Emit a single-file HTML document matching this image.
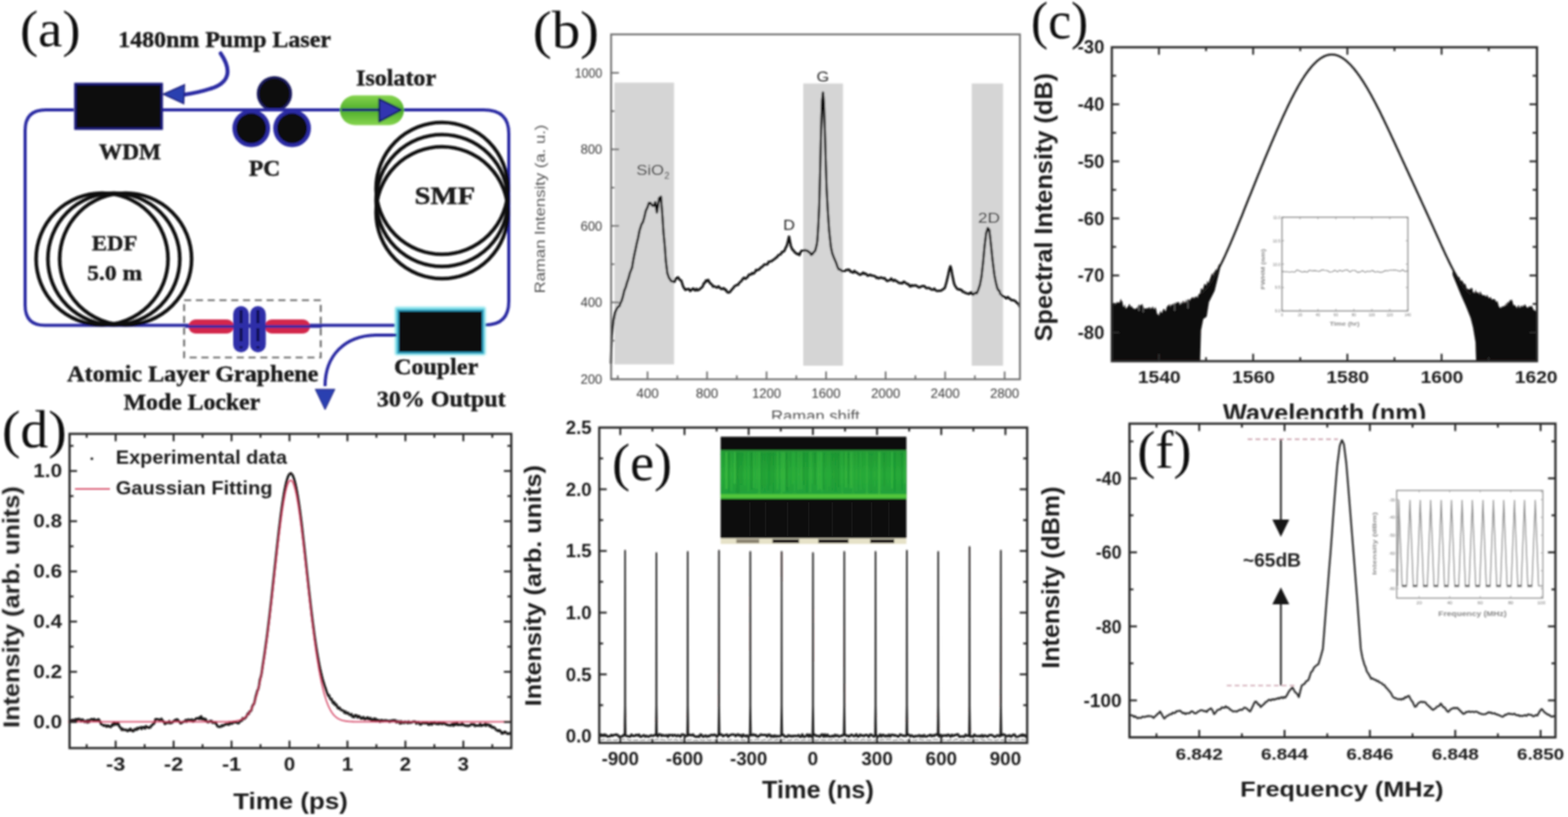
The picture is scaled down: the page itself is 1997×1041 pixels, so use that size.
<!DOCTYPE html>
<html><head><meta charset="utf-8"><title>Graphene mode-locked fiber laser</title>
<style>html,body{margin:0;padding:0;background:#fff;overflow:hidden}svg{display:block}</style>
</head><body>
<svg width="1997" height="1041" viewBox="0 0 1997 1041">
<defs><filter id="soft" x="0" y="0" width="100%" height="100%" filterUnits="userSpaceOnUse"><feGaussianBlur stdDeviation="0.8"/></filter></defs><rect width="100%" height="100%" fill="#fff"/><g filter="url(#soft)">
<defs><clipPath id="cliptop"><rect x="0" y="0" width="1997" height="533.7"/></clipPath></defs>
<g id="panel-a">
<path d="M 94 140 L 58 140 Q 32 140 32 166 L 32 389 Q 32 414.5 57 414.5 L 503 414.5" fill="none" stroke="#2b2ba3" stroke-width="4"/>
<path d="M 207 140 L 616 140 Q 648 140 648 170 L 648 384 Q 648 414 618 414" fill="none" stroke="#2b2ba3" stroke-width="4"/>
<circle cx="130" cy="330" r="84" fill="none" stroke="#0e0e0e" stroke-width="4.6"/>
<circle cx="145" cy="330" r="84" fill="none" stroke="#0e0e0e" stroke-width="4.6"/>
<circle cx="160" cy="330" r="84" fill="none" stroke="#0e0e0e" stroke-width="4.6"/>
<circle cx="563" cy="240" r="84" fill="none" stroke="#0e0e0e" stroke-width="4.6"/>
<circle cx="563" cy="255.5" r="84" fill="none" stroke="#0e0e0e" stroke-width="4.6"/>
<circle cx="563" cy="271" r="84" fill="none" stroke="#0e0e0e" stroke-width="4.6"/>
<rect x="96.0" y="107.0" width="110.0" height="57.0" rx="0" fill="#0b0b0b" stroke="#1d1d7a" stroke-width="3"/>
<path d="M 281 68 C 296 90 292 106 268 113 C 256 117 246 119 232 121" fill="none" stroke="#2b2ba3" stroke-width="5" stroke-linecap="round"/>
<polygon points="208,120 235,108 234,132" fill="#2c3fb0" stroke="#1d1d7a" stroke-width="1.5"/>
<circle cx="349.5" cy="119.5" r="21" fill="#0b0b0b" stroke="#1c1c5e" stroke-width="3"/>
<circle cx="320" cy="163.5" r="21.5" fill="#0b0b0b" stroke="#2b2ba3" stroke-width="5"/>
<circle cx="372" cy="163.5" r="21.5" fill="#0b0b0b" stroke="#2b2ba3" stroke-width="5"/>
<line x1="300.0" y1="140.0" x2="400.0" y2="140.0" stroke="#2b2ba3" stroke-width="4"/>
<defs><linearGradient id="isog" x1="0" y1="0" x2="0" y2="1"><stop offset="0" stop-color="#86d44e"/><stop offset="0.5" stop-color="#4fae2c"/><stop offset="1" stop-color="#86d44e"/></linearGradient><filter id="glow" x="-20%" y="-20%" width="140%" height="140%"><feGaussianBlur stdDeviation="1.2"/></filter></defs>
<rect x="433.0" y="121.5" width="81.5" height="38.0" rx="19" fill="url(#isog)" stroke="none" stroke-width="0"/>
<line x1="435.0" y1="140.0" x2="500.0" y2="140.0" stroke="#1a2a70" stroke-width="4"/>
<polygon points="511,140 483,126 483,155" fill="#3035b0" stroke="#13205a" stroke-width="2.5" stroke-linejoin="round"/>
<rect x="234.5" y="382.5" width="174" height="73" fill="none" stroke="#5c5c5c" stroke-width="2.2" stroke-dasharray="9,6"/>
<rect x="240.0" y="407.0" width="58.0" height="18.0" rx="9" fill="#d3284c" stroke="none" stroke-width="0"/>
<rect x="337.0" y="407.0" width="58.0" height="18.0" rx="9" fill="#d3284c" stroke="none" stroke-width="0"/>
<line x1="236.0" y1="416.0" x2="410.0" y2="416.0" stroke="#2b2ba3" stroke-width="3.5"/>
<rect x="297.0" y="390.0" width="20.0" height="59.0" rx="10" fill="#2d2da8" stroke="none" stroke-width="0"/>
<line x1="307.0" y1="395.0" x2="307.0" y2="444.0" stroke="#101048" stroke-width="3.5" stroke-dasharray="17,6"/>
<rect x="318.5" y="390.0" width="20.0" height="59.0" rx="10" fill="#2d2da8" stroke="none" stroke-width="0"/>
<line x1="328.5" y1="395.0" x2="328.5" y2="444.0" stroke="#101048" stroke-width="3.5" stroke-dasharray="17,6"/>
<rect x="503.0" y="391.0" width="115.5" height="61.5" rx="2" fill="#7fe0ea" stroke="none" stroke-width="0" filter="url(#glow)"/>
<rect x="507.0" y="395.5" width="108.0" height="54.0" rx="0" fill="#0c0a0a" stroke="#2a9ec0" stroke-width="2.5"/>
<path d="M 505 427 L 478 427 C 440 428 414 452 414 492" fill="none" stroke="#2b2ba3" stroke-width="4"/>
<polygon points="401.5,496 426.5,496 414,522" fill="#2c3fb0" stroke="#1d1d7a" stroke-width="1"/>
<text x="25.5" y="58.5" font-family="'Liberation Serif', 'Times New Roman', serif" font-size="66" font-weight="normal" fill="#111" textLength="77.0" lengthAdjust="spacingAndGlyphs">(a)</text>
<text x="150.5" y="59.6" font-family="'Liberation Serif', 'Times New Roman', serif" font-size="30" font-weight="bold" fill="#1a1a1a" textLength="271.0" lengthAdjust="spacingAndGlyphs" stroke="#1a1a1a" stroke-width="0.5">1480nm Pump Laser</text>
<text x="126.0" y="202.5" font-family="'Liberation Serif', 'Times New Roman', serif" font-size="29" font-weight="bold" fill="#1a1a1a" textLength="79.0" lengthAdjust="spacingAndGlyphs" stroke="#1a1a1a" stroke-width="0.5">WDM</text>
<text x="317.0" y="223.8" font-family="'Liberation Serif', 'Times New Roman', serif" font-size="29" font-weight="bold" fill="#1a1a1a" textLength="40.0" lengthAdjust="spacingAndGlyphs" stroke="#1a1a1a" stroke-width="0.5">PC</text>
<text x="453.5" y="108.6" font-family="'Liberation Serif', 'Times New Roman', serif" font-size="30" font-weight="bold" fill="#1a1a1a" textLength="102.0" lengthAdjust="spacingAndGlyphs" stroke="#1a1a1a" stroke-width="0.5">Isolator</text>
<text x="528.0" y="259.6" font-family="'Liberation Serif', 'Times New Roman', serif" font-size="31" font-weight="bold" fill="#1a1a1a" textLength="77.0" lengthAdjust="spacingAndGlyphs" stroke="#1a1a1a" stroke-width="0.5">SMF</text>
<text x="117.0" y="319.0" font-family="'Liberation Serif', 'Times New Roman', serif" font-size="28" font-weight="bold" fill="#1a1a1a" textLength="58.0" lengthAdjust="spacingAndGlyphs" stroke="#1a1a1a" stroke-width="0.5">EDF</text>
<text x="111.0" y="356.7" font-family="'Liberation Serif', 'Times New Roman', serif" font-size="28" font-weight="bold" fill="#1a1a1a" textLength="70.0" lengthAdjust="spacingAndGlyphs" stroke="#1a1a1a" stroke-width="0.5">5.0 m</text>
<text x="85.5" y="486.4" font-family="'Liberation Serif', 'Times New Roman', serif" font-size="30" font-weight="bold" fill="#1a1a1a" textLength="320.0" lengthAdjust="spacingAndGlyphs" stroke="#1a1a1a" stroke-width="0.5">Atomic Layer Graphene</text>
<text x="157.5" y="522.4" font-family="'Liberation Serif', 'Times New Roman', serif" font-size="30" font-weight="bold" fill="#1a1a1a" textLength="174.0" lengthAdjust="spacingAndGlyphs" stroke="#1a1a1a" stroke-width="0.5">Mode Locker</text>
<text x="502.0" y="476.8" font-family="'Liberation Serif', 'Times New Roman', serif" font-size="30" font-weight="bold" fill="#1a1a1a" textLength="107.0" lengthAdjust="spacingAndGlyphs" stroke="#1a1a1a" stroke-width="0.5">Coupler</text>
<text x="480.0" y="517.5" font-family="'Liberation Serif', 'Times New Roman', serif" font-size="30" font-weight="bold" fill="#1a1a1a" textLength="164.0" lengthAdjust="spacingAndGlyphs" stroke="#1a1a1a" stroke-width="0.5">30% Output</text>
</g>
<g id="panel-b">
<rect x="782.5" y="105.3" width="76.0" height="359.0" rx="0" fill="#d5d5d5" stroke="none" stroke-width="0"/>
<rect x="1023.0" y="106.4" width="50.6" height="359.6" rx="0" fill="#d5d5d5" stroke="none" stroke-width="0"/>
<rect x="1237.6" y="106.4" width="39.9" height="359.6" rx="0" fill="#d5d5d5" stroke="none" stroke-width="0"/>
<polyline points="778.0,462.4 778.5,445.1 779.3,427.7 781.3,408.6 783.5,398.3 785.0,394.4 786.5,391.7 789.0,389.8 790.3,386.0 791.6,383.6 793.5,377.2 795.1,370.3 796.9,366.0 798.6,359.9 800.5,354.5 802.3,347.6 803.6,344.5 805.0,340.9 806.6,331.1 808.3,322.6 809.6,316.9 811.0,310.0 812.7,303.1 814.4,294.1 815.7,290.0 817.0,285.9 818.7,283.2 820.4,277.6 822.5,268.5 824.5,264.5 826.5,258.5 828.5,258.6 830.5,261.7 832.5,262.3 834.6,257.5 836.6,270.7 838.0,262.9 839.4,252.5 841.8,250.6 843.8,277.0 845.0,296.1 846.7,313.8 848.0,332.3 849.9,347.9 852.0,354.0 853.4,355.9 854.7,358.0 856.1,358.6 857.4,358.6 858.8,359.4 861.0,354.4 862.3,354.2 863.6,353.3 865.0,355.6 866.3,356.8 867.7,357.6 870.0,364.9 871.5,367.4 872.9,369.5 874.5,368.4 876.0,368.5 877.5,368.3 879.0,370.8 880.3,369.7 881.7,368.5 883.0,367.5 884.3,369.5 885.7,370.0 887.0,368.0 888.3,370.0 889.7,369.3 891.0,368.9 892.3,367.3 893.7,366.5 895.0,364.9 896.4,361.0 897.7,360.5 899.1,357.3 900.5,358.2 902.0,356.6 903.6,359.7 905.2,361.7 906.6,362.3 908.0,365.2 909.6,364.8 911.2,365.5 913.1,366.5 915.0,364.9 916.5,366.3 918.0,367.8 919.4,368.4 920.7,367.4 922.0,367.3 923.4,369.4 924.7,369.3 926.0,372.1 927.7,372.8 929.4,372.3 930.7,370.7 932.0,369.0 933.8,367.1 935.5,364.7 937.0,363.8 938.5,363.1 940.0,363.1 941.3,360.7 942.7,359.2 944.0,358.5 945.8,355.6 947.6,353.9 949.3,355.3 951.0,354.1 952.3,352.8 953.7,350.2 955.0,349.8 956.6,349.7 958.1,347.8 959.7,348.7 961.4,347.0 963.0,343.9 964.3,344.6 965.7,343.6 967.0,343.4 968.6,341.1 970.2,340.4 971.8,338.9 973.4,337.0 975.0,336.9 976.3,337.1 977.7,336.4 979.0,333.4 980.6,333.3 982.3,333.0 983.9,331.8 985.5,330.8 987.0,329.6 988.3,328.4 989.7,327.6 991.0,325.5 992.7,324.4 994.3,324.1 996.0,321.0 997.5,320.7 999.0,319.6 1000.5,316.0 1002.0,313.3 1003.5,307.7 1004.9,301.4 1006.0,307.2 1007.3,313.8 1009.5,318.5 1010.8,319.1 1012.1,321.7 1013.5,322.2 1015.0,323.8 1016.6,323.4 1018.2,325.0 1019.6,321.3 1021.0,319.6 1022.6,319.4 1024.2,318.9 1025.6,318.9 1027.0,319.3 1028.7,319.7 1030.3,321.4 1031.7,321.9 1033.0,324.7 1034.7,323.9 1036.3,321.3 1038.2,319.5 1040.0,312.7 1041.0,306.2 1042.3,285.7 1043.4,261.1 1044.5,219.1 1045.4,180.3 1046.2,150.7 1047.0,127.9 1048.2,117.9 1049.4,132.2 1050.5,164.8 1051.5,200.8 1052.8,241.0 1054.3,268.8 1056.0,293.8 1058.3,315.1 1060.0,322.9 1062.4,329.2 1064.5,333.8 1066.4,339.3 1068.0,343.0 1070.4,343.5 1071.9,345.1 1073.5,345.5 1075.0,345.4 1076.4,344.8 1077.8,344.1 1079.1,344.0 1080.5,343.5 1082.0,344.1 1083.5,346.3 1085.0,346.5 1086.7,347.4 1088.3,345.2 1090.0,347.0 1091.7,347.5 1093.3,349.0 1095.0,350.0 1096.4,349.8 1097.8,348.8 1099.3,347.3 1100.7,348.9 1102.1,348.4 1103.6,349.6 1105.0,351.4 1106.7,350.7 1108.3,350.1 1110.0,351.1 1111.7,351.3 1113.3,351.6 1115.0,352.4 1116.5,354.2 1117.9,353.6 1119.3,354.7 1120.8,353.9 1122.2,353.5 1123.6,354.2 1125.0,354.8 1126.7,354.2 1128.3,356.7 1130.0,358.0 1131.7,357.4 1133.3,357.1 1135.0,354.8 1136.5,356.9 1138.0,358.0 1139.5,356.6 1141.0,357.8 1142.7,358.6 1144.3,360.2 1146.0,360.8 1147.7,360.6 1149.3,361.0 1151.0,358.8 1152.7,359.9 1154.3,361.1 1156.0,362.1 1157.3,362.3 1158.6,364.8 1159.9,364.9 1161.2,363.4 1162.8,364.3 1164.4,363.7 1166.0,363.6 1167.7,364.3 1169.3,365.7 1171.0,366.2 1172.7,365.3 1174.3,364.6 1176.0,364.6 1177.3,364.6 1178.7,366.2 1180.1,367.2 1181.4,366.9 1182.9,366.8 1184.5,367.6 1186.0,368.7 1187.3,368.9 1188.7,369.0 1190.0,367.7 1191.3,369.7 1192.7,370.3 1194.0,370.8 1195.8,370.4 1197.5,370.4 1199.0,370.2 1200.5,368.8 1202.0,368.2 1203.5,366.3 1205.5,359.4 1207.6,350.4 1209.0,343.5 1210.4,339.2 1211.5,342.8 1212.8,350.1 1215.0,360.9 1216.3,364.2 1217.7,366.1 1219.1,368.2 1220.6,368.8 1222.0,368.4 1223.3,369.6 1224.7,369.4 1226.0,371.8 1227.9,372.1 1229.8,373.4 1231.2,373.7 1232.6,373.9 1234.0,374.6 1235.5,373.7 1237.0,372.0 1238.4,375.0 1239.8,375.3 1242.0,373.1 1244.0,373.7 1245.9,369.3 1248.0,363.0 1249.9,353.3 1252.0,334.9 1254.0,313.2 1256.0,296.9 1258.0,290.6 1260.0,292.9 1262.0,310.8 1264.0,330.5 1266.5,350.8 1268.2,359.3 1270.0,366.6 1271.3,369.7 1272.7,370.4 1274.0,374.6 1275.4,375.5 1276.8,377.5 1278.2,377.6 1280.1,379.3 1282.0,380.0 1283.4,378.4 1284.8,379.6 1286.2,380.7 1288.1,382.5 1290.0,382.4 1291.4,382.8 1292.9,383.5 1294.3,384.9 1295.7,386.4 1297.0,386.7 1298.5,390.3" fill="none" stroke="#0e0e0e" stroke-width="3.0" stroke-linejoin="round" stroke-linecap="round"/>
<rect x="778.3" y="43.8" width="520.7" height="439.5" rx="0" fill="none" stroke="#6e6e6e" stroke-width="2.3"/>
<line x1="778.3" y1="482.8" x2="788.3" y2="482.8" stroke="#6a6a6a" stroke-width="2"/>
<text x="767.0" y="488.8" font-family="'Liberation Sans', Arial, sans-serif" font-size="17" font-weight="normal" fill="#3a3a3a" text-anchor="end" textLength="27.5" lengthAdjust="spacingAndGlyphs">200</text>
<line x1="778.3" y1="434.1" x2="782.8" y2="434.1" stroke="#6a6a6a" stroke-width="2"/>
<line x1="778.3" y1="385.3" x2="788.3" y2="385.3" stroke="#6a6a6a" stroke-width="2"/>
<text x="767.0" y="391.3" font-family="'Liberation Sans', Arial, sans-serif" font-size="17" font-weight="normal" fill="#3a3a3a" text-anchor="end" textLength="27.5" lengthAdjust="spacingAndGlyphs">400</text>
<line x1="778.3" y1="336.6" x2="782.8" y2="336.6" stroke="#6a6a6a" stroke-width="2"/>
<line x1="778.3" y1="287.8" x2="788.3" y2="287.8" stroke="#6a6a6a" stroke-width="2"/>
<text x="767.0" y="293.8" font-family="'Liberation Sans', Arial, sans-serif" font-size="17" font-weight="normal" fill="#3a3a3a" text-anchor="end" textLength="27.5" lengthAdjust="spacingAndGlyphs">600</text>
<line x1="778.3" y1="239.1" x2="782.8" y2="239.1" stroke="#6a6a6a" stroke-width="2"/>
<line x1="778.3" y1="190.3" x2="788.3" y2="190.3" stroke="#6a6a6a" stroke-width="2"/>
<text x="767.0" y="196.3" font-family="'Liberation Sans', Arial, sans-serif" font-size="17" font-weight="normal" fill="#3a3a3a" text-anchor="end" textLength="27.5" lengthAdjust="spacingAndGlyphs">800</text>
<line x1="778.3" y1="141.6" x2="782.8" y2="141.6" stroke="#6a6a6a" stroke-width="2"/>
<line x1="778.3" y1="92.8" x2="788.3" y2="92.8" stroke="#6a6a6a" stroke-width="2"/>
<text x="767.0" y="98.8" font-family="'Liberation Sans', Arial, sans-serif" font-size="17" font-weight="normal" fill="#3a3a3a" text-anchor="end" textLength="35.0" lengthAdjust="spacingAndGlyphs">1000</text>
<line x1="786.8" y1="483.3" x2="786.8" y2="478.3" stroke="#6a6a6a" stroke-width="2"/>
<line x1="824.7" y1="483.3" x2="824.7" y2="473.3" stroke="#6a6a6a" stroke-width="2"/>
<text x="824.7" y="507.0" font-family="'Liberation Sans', Arial, sans-serif" font-size="17" font-weight="normal" fill="#3a3a3a" text-anchor="middle" textLength="28.5" lengthAdjust="spacingAndGlyphs">400</text>
<line x1="862.6" y1="483.3" x2="862.6" y2="478.3" stroke="#6a6a6a" stroke-width="2"/>
<line x1="900.5" y1="483.3" x2="900.5" y2="473.3" stroke="#6a6a6a" stroke-width="2"/>
<text x="900.5" y="507.0" font-family="'Liberation Sans', Arial, sans-serif" font-size="17" font-weight="normal" fill="#3a3a3a" text-anchor="middle" textLength="28.5" lengthAdjust="spacingAndGlyphs">800</text>
<line x1="938.4" y1="483.3" x2="938.4" y2="478.3" stroke="#6a6a6a" stroke-width="2"/>
<line x1="976.3" y1="483.3" x2="976.3" y2="473.3" stroke="#6a6a6a" stroke-width="2"/>
<text x="976.3" y="507.0" font-family="'Liberation Sans', Arial, sans-serif" font-size="17" font-weight="normal" fill="#3a3a3a" text-anchor="middle" textLength="37.0" lengthAdjust="spacingAndGlyphs">1200</text>
<line x1="1014.2" y1="483.3" x2="1014.2" y2="478.3" stroke="#6a6a6a" stroke-width="2"/>
<line x1="1052.1" y1="483.3" x2="1052.1" y2="473.3" stroke="#6a6a6a" stroke-width="2"/>
<text x="1052.1" y="507.0" font-family="'Liberation Sans', Arial, sans-serif" font-size="17" font-weight="normal" fill="#3a3a3a" text-anchor="middle" textLength="37.0" lengthAdjust="spacingAndGlyphs">1600</text>
<line x1="1090.0" y1="483.3" x2="1090.0" y2="478.3" stroke="#6a6a6a" stroke-width="2"/>
<line x1="1127.9" y1="483.3" x2="1127.9" y2="473.3" stroke="#6a6a6a" stroke-width="2"/>
<text x="1127.9" y="507.0" font-family="'Liberation Sans', Arial, sans-serif" font-size="17" font-weight="normal" fill="#3a3a3a" text-anchor="middle" textLength="37.0" lengthAdjust="spacingAndGlyphs">2000</text>
<line x1="1165.8" y1="483.3" x2="1165.8" y2="478.3" stroke="#6a6a6a" stroke-width="2"/>
<line x1="1203.7" y1="483.3" x2="1203.7" y2="473.3" stroke="#6a6a6a" stroke-width="2"/>
<text x="1203.7" y="507.0" font-family="'Liberation Sans', Arial, sans-serif" font-size="17" font-weight="normal" fill="#3a3a3a" text-anchor="middle" textLength="37.0" lengthAdjust="spacingAndGlyphs">2400</text>
<line x1="1241.6" y1="483.3" x2="1241.6" y2="478.3" stroke="#6a6a6a" stroke-width="2"/>
<line x1="1279.5" y1="483.3" x2="1279.5" y2="473.3" stroke="#6a6a6a" stroke-width="2"/>
<text x="1279.5" y="507.0" font-family="'Liberation Sans', Arial, sans-serif" font-size="17" font-weight="normal" fill="#3a3a3a" text-anchor="middle" textLength="37.0" lengthAdjust="spacingAndGlyphs">2800</text>
<text x="694.3" y="373.8" font-family="'Liberation Sans', Arial, sans-serif" font-size="19" font-weight="normal" fill="#555" textLength="215.0" lengthAdjust="spacingAndGlyphs" transform="rotate(-90 694.3 373.8)">Raman Intensity (a. u.)</text>
<text x="1038.5" y="537.2" font-family="'Liberation Sans', Arial, sans-serif" font-size="19.3" font-weight="normal" fill="#555" text-anchor="middle" textLength="113.0" lengthAdjust="spacingAndGlyphs" clip-path="url(#cliptop)">Raman shift</text>
<text x="810.5" y="223.3" font-family="'Liberation Sans', Arial, sans-serif" font-size="19" font-weight="normal" fill="#262626" textLength="35.0" lengthAdjust="spacingAndGlyphs">SiO</text>
<text x="846.0" y="228.0" font-family="'Liberation Sans', Arial, sans-serif" font-size="12" font-weight="normal" fill="#262626">2</text>
<text x="997.5" y="292.5" font-family="'Liberation Sans', Arial, sans-serif" font-size="19" font-weight="normal" fill="#262626" textLength="15.0" lengthAdjust="spacingAndGlyphs">D</text>
<text x="1040.0" y="103.5" font-family="'Liberation Sans', Arial, sans-serif" font-size="19" font-weight="normal" fill="#262626" textLength="16.0" lengthAdjust="spacingAndGlyphs">G</text>
<text x="1245.5" y="284.0" font-family="'Liberation Sans', Arial, sans-serif" font-size="19" font-weight="normal" fill="#262626" textLength="28.0" lengthAdjust="spacingAndGlyphs">2D</text>
<text x="678.5" y="61.0" font-family="'Liberation Serif', 'Times New Roman', serif" font-size="67" font-weight="normal" fill="#111" textLength="84.5" lengthAdjust="spacingAndGlyphs">(b)</text>
</g>
<g id="panel-c">
<polygon points="1415.8,384.1 1416.9,385.3 1418.1,388.1 1419.2,385.9 1420.4,386.7 1421.5,387.7 1422.7,384.4 1423.8,385.6 1425.0,385.4 1426.1,385.5 1427.3,380.5 1428.4,383.5 1429.4,384.0 1430.5,390.2 1431.6,391.3 1432.6,387.4 1433.7,393.0 1434.7,392.9 1435.7,391.0 1436.7,390.8 1437.8,388.0 1438.8,387.2 1440.0,391.4 1441.1,389.8 1442.3,391.7 1443.4,393.2 1444.6,393.1 1445.8,394.1 1446.9,392.5 1448.1,393.3 1449.2,389.9 1450.4,389.0 1451.5,388.3 1452.7,389.4 1453.8,388.2 1455.0,387.3 1456.1,391.7 1457.3,392.8 1458.4,393.1 1459.6,393.4 1460.7,392.2 1461.9,392.9 1462.9,392.6 1464.0,390.7 1465.0,394.2 1466.0,391.4 1467.0,393.4 1468.1,390.0 1469.1,392.8 1470.3,394.2 1471.4,391.1 1472.6,394.4 1473.7,400.6 1474.9,400.0 1475.9,402.5 1477.0,398.4 1478.0,395.8 1479.0,398.5 1480.0,398.8 1481.1,395.1 1482.1,393.4 1483.1,394.1 1484.2,397.0 1485.2,395.0 1486.2,390.3 1487.2,390.2 1488.3,388.5 1489.3,387.5 1490.3,391.5 1491.4,387.3 1492.4,389.2 1493.4,388.1 1494.4,386.2 1495.5,389.0 1496.5,385.0 1497.5,387.9 1498.6,384.5 1499.6,386.1 1500.6,384.7 1501.6,384.8 1502.7,388.8 1503.7,387.6 1504.7,384.3 1505.8,387.5 1506.8,383.1 1507.8,383.9 1508.8,386.4 1509.9,384.8 1510.9,381.2 1511.9,386.2 1513.0,381.3 1514.0,381.2 1515.0,384.0 1516.0,381.1 1517.1,380.6 1518.1,378.9 1519.1,378.4 1520.2,380.8 1521.2,378.1 1522.2,379.7 1523.2,377.7 1524.3,377.5 1525.3,380.0 1526.3,375.4 1527.4,374.3 1528.4,374.4 1529.4,368.7 1530.4,366.8 1531.5,369.7 1532.5,367.5 1533.5,362.9 1534.6,361.3 1535.6,363.4 1536.6,363.3 1537.6,357.6 1538.7,360.9 1539.7,359.3 1540.8,356.0 1541.9,353.3 1543.0,349.7 1544.1,347.7 1545.1,351.7 1546.2,345.7 1547.3,346.9 1548.4,342.5 1549.5,344.5 1550.7,341.7 1551.8,338.4 1553.0,336.3 1554.1,338.1 1554.1,341.6 1547.0,370.5 1539.7,384.9 1536.8,403.6 1532.5,406.5 1529.6,420.9 1528.5,460.2 1415.8,460.2" fill="#0e0c0b"/>
<line x1="1450.5" y1="388.0" x2="1450.5" y2="396.0" stroke="#777" stroke-width="1.2"/>
<line x1="1456.0" y1="390.0" x2="1456.0" y2="398.0" stroke="#777" stroke-width="1.2"/>
<line x1="1496.0" y1="389.0" x2="1496.0" y2="396.0" stroke="#777" stroke-width="1.2"/>
<line x1="1513.0" y1="385.0" x2="1513.0" y2="393.0" stroke="#777" stroke-width="1.2"/>
<polygon points="1850.0,342.2 1851.1,344.6 1852.1,347.9 1853.2,351.1 1854.3,351.0 1855.3,350.4 1856.4,355.6 1857.5,352.8 1858.6,353.0 1859.6,355.9 1860.7,358.4 1861.7,357.0 1862.8,358.6 1863.8,360.6 1864.8,362.7 1865.8,361.0 1866.8,363.3 1867.9,367.3 1868.9,368.8 1869.9,367.7 1871.0,368.8 1872.0,369.1 1873.0,367.3 1874.0,367.0 1875.1,367.3 1876.1,373.0 1877.1,372.0 1878.2,373.9 1879.2,368.6 1880.2,372.7 1881.3,372.1 1882.3,373.9 1883.3,371.7 1884.3,376.0 1885.3,370.7 1886.4,373.8 1887.4,375.2 1888.4,376.4 1889.5,375.9 1890.6,376.1 1891.7,377.1 1892.8,378.3 1893.9,375.3 1895.0,377.8 1896.1,379.5 1897.2,380.0 1898.3,377.9 1899.4,380.8 1900.5,381.9 1901.6,380.8 1902.7,381.8 1903.8,381.0 1904.9,383.5 1906.0,385.0 1907.1,383.2 1908.2,387.9 1909.3,391.3 1910.4,392.0 1911.5,392.4 1912.6,389.9 1913.7,391.5 1914.8,390.2 1915.8,388.9 1916.9,390.8 1918.0,385.8 1919.1,389.4 1920.1,384.0 1921.2,386.3 1922.2,384.4 1923.2,381.8 1924.3,383.5 1925.3,381.2 1926.5,384.7 1927.6,389.4 1928.8,388.2 1929.9,389.6 1931.0,390.9 1932.1,392.7 1933.2,389.4 1934.3,388.7 1935.4,392.7 1936.5,390.8 1937.6,389.1 1938.7,391.8 1939.8,388.4 1940.9,390.4 1942.0,387.6 1943.1,389.0 1944.2,391.2 1945.3,391.9 1946.4,392.1 1947.5,389.6 1948.6,391.2 1949.7,390.1 1950.8,389.4 1951.9,392.0 1953.0,394.5 1954.0,395.4 1955.1,395.3 1956.2,397.5 1957.2,394.3 1957.2,460.2 1880.0,460.2 1879.2,436.0 1876.1,417.6 1873.0,405.3 1866.9,389.9 1860.7,376.0 1850.0,350.0" fill="#0e0c0b"/>
<polyline points="1531.0,373.2 1532.0,372.3 1533.0,371.3 1534.0,370.2 1535.0,369.1 1536.0,367.9 1537.0,366.7 1538.0,365.4 1539.0,364.1 1540.0,362.7 1541.0,361.3 1542.0,359.8 1543.0,358.3 1544.0,356.7 1545.0,355.1 1546.0,353.4 1547.0,351.7 1548.0,350.0 1549.0,348.2 1550.0,346.4 1551.0,344.5 1552.0,342.6 1553.0,340.7 1554.0,338.7 1555.0,336.7 1556.0,334.7 1557.0,332.6 1558.0,330.5 1559.0,328.4 1560.0,326.2 1561.0,324.0 1562.0,321.8 1563.0,319.6 1564.0,317.3 1565.0,315.0 1566.0,312.7 1567.0,310.4 1568.0,308.1 1569.0,305.7 1570.0,303.3 1571.0,300.9 1572.0,298.5 1573.0,296.1 1574.0,293.7 1575.0,291.2 1576.0,288.8 1577.0,286.3 1578.0,283.8 1579.0,281.3 1580.0,278.8 1581.0,276.4 1582.0,273.9 1583.0,271.4 1584.0,268.8 1585.0,266.3 1586.0,263.8 1587.0,261.3 1588.0,258.8 1589.0,256.3 1590.0,253.8 1591.0,251.3 1592.0,248.9 1593.0,246.4 1594.0,243.9 1595.0,241.4 1596.0,238.9 1597.0,236.4 1598.0,233.9 1599.0,231.5 1600.0,229.0 1601.0,226.5 1602.0,224.1 1603.0,221.6 1604.0,219.2 1605.0,216.7 1606.0,214.3 1607.0,211.8 1608.0,209.4 1609.0,207.0 1610.0,204.6 1611.0,202.1 1612.0,199.7 1613.0,197.3 1614.0,194.9 1615.0,192.6 1616.0,190.2 1617.0,187.8 1618.0,185.4 1619.0,183.1 1620.0,180.7 1621.0,178.4 1622.0,176.0 1623.0,173.7 1624.0,171.4 1625.0,169.1 1626.0,166.8 1627.0,164.5 1628.0,162.2 1629.0,160.0 1630.0,157.7 1631.0,155.5 1632.0,153.2 1633.0,151.0 1634.0,148.8 1635.0,146.6 1636.0,144.5 1637.0,142.3 1638.0,140.2 1639.0,138.0 1640.0,135.9 1641.0,133.9 1642.0,131.8 1643.0,129.8 1644.0,127.7 1645.0,125.7 1646.0,123.8 1647.0,121.8 1648.0,119.9 1649.0,118.0 1650.0,116.1 1651.0,114.3 1652.0,112.5 1653.0,110.7 1654.0,108.9 1655.0,107.2 1656.0,105.5 1657.0,103.9 1658.0,102.2 1659.0,100.6 1660.0,99.1 1661.0,97.5 1662.0,96.0 1663.0,94.6 1664.0,93.2 1665.0,91.8 1666.0,90.4 1667.0,89.1 1668.0,87.9 1669.0,86.6 1670.0,85.4 1671.0,84.3 1672.0,83.2 1673.0,82.1 1674.0,81.1 1675.0,80.1 1676.0,79.1 1677.0,78.2 1678.0,77.3 1679.0,76.5 1680.0,75.7 1681.0,75.0 1682.0,74.3 1683.0,73.7 1684.0,73.1 1685.0,72.5 1686.0,72.0 1687.0,71.5 1688.0,71.1 1689.0,70.7 1690.0,70.4 1691.0,70.1 1692.0,69.9 1693.0,69.7 1694.0,69.6 1695.0,69.5 1696.0,69.5 1697.0,69.5 1698.0,69.6 1699.0,69.7 1700.0,69.8 1701.0,70.1 1702.0,70.3 1703.0,70.6 1704.0,71.0 1705.0,71.4 1706.0,71.8 1707.0,72.3 1708.0,72.9 1709.0,73.5 1710.0,74.1 1711.0,74.8 1712.0,75.5 1713.0,76.2 1714.0,77.0 1715.0,77.9 1716.0,78.8 1717.0,79.7 1718.0,80.6 1719.0,81.6 1720.0,82.7 1721.0,83.7 1722.0,84.8 1723.0,86.0 1724.0,87.1 1725.0,88.4 1726.0,89.6 1727.0,90.9 1728.0,92.2 1729.0,93.5 1730.0,94.9 1731.0,96.3 1732.0,97.8 1733.0,99.2 1734.0,100.7 1735.0,102.2 1736.0,103.8 1737.0,105.4 1738.0,107.0 1739.0,108.6 1740.0,110.3 1741.0,111.9 1742.0,113.6 1743.0,115.4 1744.0,117.1 1745.0,118.9 1746.0,120.7 1747.0,122.5 1748.0,124.4 1749.0,126.2 1750.0,128.1 1751.0,130.0 1752.0,131.9 1753.0,133.8 1754.0,135.8 1755.0,137.8 1756.0,139.7 1757.0,141.7 1758.0,143.7 1759.0,145.8 1760.0,147.8 1761.0,149.9 1762.0,151.9 1763.0,154.0 1764.0,156.1 1765.0,158.2 1766.0,160.3 1767.0,162.4 1768.0,164.5 1769.0,166.7 1770.0,168.8 1771.0,170.9 1772.0,173.1 1773.0,175.2 1774.0,177.4 1775.0,179.6 1776.0,181.7 1777.0,183.9 1778.0,186.1 1779.0,188.3 1780.0,190.4 1781.0,192.6 1782.0,194.8 1783.0,197.0 1784.0,199.2 1785.0,201.3 1786.0,203.5 1787.0,205.7 1788.0,207.9 1789.0,210.0 1790.0,212.2 1791.0,214.4 1792.0,216.6 1793.0,218.7 1794.0,220.9 1795.0,223.1 1796.0,225.3 1797.0,227.4 1798.0,229.6 1799.0,231.8 1800.0,234.0 1801.0,236.1 1802.0,238.3 1803.0,240.5 1804.0,242.7 1805.0,244.9 1806.0,247.0 1807.0,249.2 1808.0,251.4 1809.0,253.6 1810.0,255.8 1811.0,258.0 1812.0,260.2 1813.0,262.3 1814.0,264.5 1815.0,266.7 1816.0,268.9 1817.0,271.1 1818.0,273.3 1819.0,275.5 1820.0,277.7 1821.0,279.9 1822.0,282.1 1823.0,284.3 1824.0,286.6 1825.0,288.8 1826.0,291.0 1827.0,293.2 1828.0,295.4 1829.0,297.7 1830.0,299.9 1831.0,302.1 1832.0,304.3 1833.0,306.6 1834.0,308.8 1835.0,311.0 1836.0,313.2 1837.0,315.4 1838.0,317.6 1839.0,319.8 1840.0,322.0 1841.0,324.1 1842.0,326.2 1843.0,328.3 1844.0,330.4 1845.0,332.5 1846.0,334.6 1847.0,336.6 1848.0,338.6 1849.0,340.6 1850.0,342.5 1851.0,344.4 1852.0,346.3 1853.0,348.1 1854.0,349.9 1855.0,351.7 1856.0,353.4 1857.0,355.1 1858.0,356.7 1859.0,358.3 1860.0,359.9 1861.0,361.4 1862.0,362.8 1863.0,364.2 1864.0,365.6 1865.0,366.9 1866.0,368.1 1867.0,369.3 1868.0,370.4 1869.0,371.5 1870.0,372.5 1871.0,373.4 1872.0,374.3" fill="none" stroke="#1f1d1c" stroke-width="2.6" stroke-linejoin="round" stroke-linecap="round"/>
<rect x="1416.0" y="60.2" width="541.5" height="400.0" rx="0" fill="none" stroke="#2b2b2b" stroke-width="2.8"/>
<text x="1406.5" y="68.4" font-family="'Liberation Sans', Arial, sans-serif" font-size="23" font-weight="bold" fill="#1e1e1e" text-anchor="end" textLength="34.0" lengthAdjust="spacingAndGlyphs">-30</text>
<line x1="1416.0" y1="96.5" x2="1421.5" y2="96.5" stroke="#2b2b2b" stroke-width="2.4"/>
<line x1="1957.5" y1="96.5" x2="1952.0" y2="96.5" stroke="#2b2b2b" stroke-width="2.4"/>
<line x1="1416.0" y1="132.9" x2="1425.5" y2="132.9" stroke="#2b2b2b" stroke-width="2.4"/>
<line x1="1957.5" y1="132.9" x2="1948.0" y2="132.9" stroke="#2b2b2b" stroke-width="2.4"/>
<text x="1406.5" y="141.1" font-family="'Liberation Sans', Arial, sans-serif" font-size="23" font-weight="bold" fill="#1e1e1e" text-anchor="end" textLength="34.0" lengthAdjust="spacingAndGlyphs">-40</text>
<line x1="1416.0" y1="169.2" x2="1421.5" y2="169.2" stroke="#2b2b2b" stroke-width="2.4"/>
<line x1="1957.5" y1="169.2" x2="1952.0" y2="169.2" stroke="#2b2b2b" stroke-width="2.4"/>
<line x1="1416.0" y1="205.6" x2="1425.5" y2="205.6" stroke="#2b2b2b" stroke-width="2.4"/>
<line x1="1957.5" y1="205.6" x2="1948.0" y2="205.6" stroke="#2b2b2b" stroke-width="2.4"/>
<text x="1406.5" y="213.8" font-family="'Liberation Sans', Arial, sans-serif" font-size="23" font-weight="bold" fill="#1e1e1e" text-anchor="end" textLength="34.0" lengthAdjust="spacingAndGlyphs">-50</text>
<line x1="1416.0" y1="241.9" x2="1421.5" y2="241.9" stroke="#2b2b2b" stroke-width="2.4"/>
<line x1="1957.5" y1="241.9" x2="1952.0" y2="241.9" stroke="#2b2b2b" stroke-width="2.4"/>
<line x1="1416.0" y1="278.3" x2="1425.5" y2="278.3" stroke="#2b2b2b" stroke-width="2.4"/>
<line x1="1957.5" y1="278.3" x2="1948.0" y2="278.3" stroke="#2b2b2b" stroke-width="2.4"/>
<text x="1406.5" y="286.5" font-family="'Liberation Sans', Arial, sans-serif" font-size="23" font-weight="bold" fill="#1e1e1e" text-anchor="end" textLength="34.0" lengthAdjust="spacingAndGlyphs">-60</text>
<line x1="1416.0" y1="314.6" x2="1421.5" y2="314.6" stroke="#2b2b2b" stroke-width="2.4"/>
<line x1="1957.5" y1="314.6" x2="1952.0" y2="314.6" stroke="#2b2b2b" stroke-width="2.4"/>
<line x1="1416.0" y1="351.0" x2="1425.5" y2="351.0" stroke="#2b2b2b" stroke-width="2.4"/>
<line x1="1957.5" y1="351.0" x2="1948.0" y2="351.0" stroke="#2b2b2b" stroke-width="2.4"/>
<text x="1406.5" y="359.2" font-family="'Liberation Sans', Arial, sans-serif" font-size="23" font-weight="bold" fill="#1e1e1e" text-anchor="end" textLength="34.0" lengthAdjust="spacingAndGlyphs">-70</text>
<line x1="1416.0" y1="387.3" x2="1421.5" y2="387.3" stroke="#2b2b2b" stroke-width="2.4"/>
<line x1="1957.5" y1="387.3" x2="1952.0" y2="387.3" stroke="#2b2b2b" stroke-width="2.4"/>
<line x1="1416.0" y1="423.7" x2="1425.5" y2="423.7" stroke="#2b2b2b" stroke-width="2.4"/>
<line x1="1957.5" y1="423.7" x2="1948.0" y2="423.7" stroke="#2b2b2b" stroke-width="2.4"/>
<text x="1406.5" y="431.9" font-family="'Liberation Sans', Arial, sans-serif" font-size="23" font-weight="bold" fill="#1e1e1e" text-anchor="end" textLength="34.0" lengthAdjust="spacingAndGlyphs">-80</text>
<line x1="1476.0" y1="60.2" x2="1476.0" y2="69.7" stroke="#2b2b2b" stroke-width="2.4"/>
<line x1="1476.0" y1="460.2" x2="1476.0" y2="450.7" stroke="#2b2b2b" stroke-width="2.4"/>
<line x1="1536.0" y1="60.2" x2="1536.0" y2="65.2" stroke="#2b2b2b" stroke-width="2.4"/>
<line x1="1536.0" y1="460.2" x2="1536.0" y2="455.2" stroke="#2b2b2b" stroke-width="2.4"/>
<line x1="1596.0" y1="60.2" x2="1596.0" y2="69.7" stroke="#2b2b2b" stroke-width="2.4"/>
<line x1="1596.0" y1="460.2" x2="1596.0" y2="450.7" stroke="#2b2b2b" stroke-width="2.4"/>
<line x1="1656.0" y1="60.2" x2="1656.0" y2="65.2" stroke="#2b2b2b" stroke-width="2.4"/>
<line x1="1656.0" y1="460.2" x2="1656.0" y2="455.2" stroke="#2b2b2b" stroke-width="2.4"/>
<line x1="1716.0" y1="60.2" x2="1716.0" y2="69.7" stroke="#2b2b2b" stroke-width="2.4"/>
<line x1="1716.0" y1="460.2" x2="1716.0" y2="450.7" stroke="#2b2b2b" stroke-width="2.4"/>
<line x1="1776.0" y1="60.2" x2="1776.0" y2="65.2" stroke="#2b2b2b" stroke-width="2.4"/>
<line x1="1776.0" y1="460.2" x2="1776.0" y2="455.2" stroke="#2b2b2b" stroke-width="2.4"/>
<line x1="1836.0" y1="60.2" x2="1836.0" y2="69.7" stroke="#2b2b2b" stroke-width="2.4"/>
<line x1="1836.0" y1="460.2" x2="1836.0" y2="450.7" stroke="#2b2b2b" stroke-width="2.4"/>
<line x1="1896.0" y1="60.2" x2="1896.0" y2="65.2" stroke="#2b2b2b" stroke-width="2.4"/>
<line x1="1896.0" y1="460.2" x2="1896.0" y2="455.2" stroke="#2b2b2b" stroke-width="2.4"/>
<text x="1476.5" y="488.0" font-family="'Liberation Sans', Arial, sans-serif" font-size="22.5" font-weight="bold" fill="#1e1e1e" text-anchor="middle" textLength="54.5" lengthAdjust="spacingAndGlyphs">1540</text>
<text x="1596.5" y="488.0" font-family="'Liberation Sans', Arial, sans-serif" font-size="22.5" font-weight="bold" fill="#1e1e1e" text-anchor="middle" textLength="54.5" lengthAdjust="spacingAndGlyphs">1560</text>
<text x="1716.5" y="488.0" font-family="'Liberation Sans', Arial, sans-serif" font-size="22.5" font-weight="bold" fill="#1e1e1e" text-anchor="middle" textLength="54.5" lengthAdjust="spacingAndGlyphs">1580</text>
<text x="1836.5" y="488.0" font-family="'Liberation Sans', Arial, sans-serif" font-size="22.5" font-weight="bold" fill="#1e1e1e" text-anchor="middle" textLength="54.5" lengthAdjust="spacingAndGlyphs">1600</text>
<text x="1956.5" y="488.0" font-family="'Liberation Sans', Arial, sans-serif" font-size="22.5" font-weight="bold" fill="#1e1e1e" text-anchor="middle" textLength="54.5" lengthAdjust="spacingAndGlyphs">1620</text>
<text x="1340.0" y="435.0" font-family="'Liberation Sans', Arial, sans-serif" font-size="32" font-weight="bold" fill="#1e1e1e" textLength="342.0" lengthAdjust="spacingAndGlyphs" transform="rotate(-90 1340.0 435.0)">Spectral Intensity (dB)</text>
<text x="1557.5" y="536.5" font-family="'Liberation Sans', Arial, sans-serif" font-size="32" font-weight="bold" fill="#1e1e1e" textLength="259.0" lengthAdjust="spacingAndGlyphs" clip-path="url(#cliptop)">Wavelength (nm)</text>
<text x="1313.0" y="49.0" font-family="'Liberation Serif', 'Times New Roman', serif" font-size="68" font-weight="normal" fill="#111" textLength="73.0" lengthAdjust="spacingAndGlyphs">(c)</text>
<rect x="1632.8" y="276.9" width="160.1" height="119.2" rx="0" fill="#fff" stroke="#7a7a7a" stroke-width="1.4"/>
<line x1="1632.8" y1="396.1" x2="1632.8" y2="393.6" stroke="#888" stroke-width="1"/>
<line x1="1632.8" y1="276.9" x2="1632.8" y2="279.4" stroke="#888" stroke-width="1"/>
<text x="1632.8" y="402.5" font-family="'Liberation Sans', Arial, sans-serif" font-size="5" font-weight="normal" fill="#777" text-anchor="middle">0</text>
<line x1="1655.7" y1="396.1" x2="1655.7" y2="393.6" stroke="#888" stroke-width="1"/>
<line x1="1655.7" y1="276.9" x2="1655.7" y2="279.4" stroke="#888" stroke-width="1"/>
<text x="1655.7" y="402.5" font-family="'Liberation Sans', Arial, sans-serif" font-size="5" font-weight="normal" fill="#777" text-anchor="middle">20</text>
<line x1="1678.5" y1="396.1" x2="1678.5" y2="393.6" stroke="#888" stroke-width="1"/>
<line x1="1678.5" y1="276.9" x2="1678.5" y2="279.4" stroke="#888" stroke-width="1"/>
<text x="1678.5" y="402.5" font-family="'Liberation Sans', Arial, sans-serif" font-size="5" font-weight="normal" fill="#777" text-anchor="middle">40</text>
<line x1="1701.4" y1="396.1" x2="1701.4" y2="393.6" stroke="#888" stroke-width="1"/>
<line x1="1701.4" y1="276.9" x2="1701.4" y2="279.4" stroke="#888" stroke-width="1"/>
<text x="1701.4" y="402.5" font-family="'Liberation Sans', Arial, sans-serif" font-size="5" font-weight="normal" fill="#777" text-anchor="middle">60</text>
<line x1="1724.3" y1="396.1" x2="1724.3" y2="393.6" stroke="#888" stroke-width="1"/>
<line x1="1724.3" y1="276.9" x2="1724.3" y2="279.4" stroke="#888" stroke-width="1"/>
<text x="1724.3" y="402.5" font-family="'Liberation Sans', Arial, sans-serif" font-size="5" font-weight="normal" fill="#777" text-anchor="middle">80</text>
<line x1="1747.2" y1="396.1" x2="1747.2" y2="393.6" stroke="#888" stroke-width="1"/>
<line x1="1747.2" y1="276.9" x2="1747.2" y2="279.4" stroke="#888" stroke-width="1"/>
<text x="1747.2" y="402.5" font-family="'Liberation Sans', Arial, sans-serif" font-size="5" font-weight="normal" fill="#777" text-anchor="middle">100</text>
<line x1="1770.0" y1="396.1" x2="1770.0" y2="393.6" stroke="#888" stroke-width="1"/>
<line x1="1770.0" y1="276.9" x2="1770.0" y2="279.4" stroke="#888" stroke-width="1"/>
<text x="1770.0" y="402.5" font-family="'Liberation Sans', Arial, sans-serif" font-size="5" font-weight="normal" fill="#777" text-anchor="middle">120</text>
<line x1="1792.9" y1="396.1" x2="1792.9" y2="393.6" stroke="#888" stroke-width="1"/>
<line x1="1792.9" y1="276.9" x2="1792.9" y2="279.4" stroke="#888" stroke-width="1"/>
<text x="1792.9" y="402.5" font-family="'Liberation Sans', Arial, sans-serif" font-size="5" font-weight="normal" fill="#777" text-anchor="middle">140</text>
<line x1="1632.8" y1="396.1" x2="1635.3" y2="396.1" stroke="#888" stroke-width="1"/>
<line x1="1792.9" y1="396.1" x2="1790.4" y2="396.1" stroke="#888" stroke-width="1"/>
<text x="1630.8" y="398.1" font-family="'Liberation Sans', Arial, sans-serif" font-size="5" font-weight="normal" fill="#777" text-anchor="end">9.0</text>
<line x1="1632.8" y1="366.3" x2="1635.3" y2="366.3" stroke="#888" stroke-width="1"/>
<line x1="1792.9" y1="366.3" x2="1790.4" y2="366.3" stroke="#888" stroke-width="1"/>
<text x="1630.8" y="368.3" font-family="'Liberation Sans', Arial, sans-serif" font-size="5" font-weight="normal" fill="#777" text-anchor="end">9.5</text>
<line x1="1632.8" y1="336.5" x2="1635.3" y2="336.5" stroke="#888" stroke-width="1"/>
<line x1="1792.9" y1="336.5" x2="1790.4" y2="336.5" stroke="#888" stroke-width="1"/>
<text x="1630.8" y="338.5" font-family="'Liberation Sans', Arial, sans-serif" font-size="5" font-weight="normal" fill="#777" text-anchor="end">10.0</text>
<line x1="1632.8" y1="306.7" x2="1635.3" y2="306.7" stroke="#888" stroke-width="1"/>
<line x1="1792.9" y1="306.7" x2="1790.4" y2="306.7" stroke="#888" stroke-width="1"/>
<text x="1630.8" y="308.7" font-family="'Liberation Sans', Arial, sans-serif" font-size="5" font-weight="normal" fill="#777" text-anchor="end">10.5</text>
<line x1="1632.8" y1="276.9" x2="1635.3" y2="276.9" stroke="#888" stroke-width="1"/>
<line x1="1792.9" y1="276.9" x2="1790.4" y2="276.9" stroke="#888" stroke-width="1"/>
<text x="1630.8" y="278.9" font-family="'Liberation Sans', Arial, sans-serif" font-size="5" font-weight="normal" fill="#777" text-anchor="end">11.0</text>
<text x="1712.5" y="414.5" font-family="'Liberation Sans', Arial, sans-serif" font-size="8" font-weight="bold" fill="#888" text-anchor="middle" textLength="38.0" lengthAdjust="spacingAndGlyphs">Time (hr)</text>
<text x="1611.0" y="369.0" font-family="'Liberation Sans', Arial, sans-serif" font-size="7" font-weight="bold" fill="#888" textLength="52.0" lengthAdjust="spacingAndGlyphs" transform="rotate(-90 1611.0 369.0)">FWHM (nm)</text>
<polyline points="1632.8,345.8 1636.0,346.2 1639.2,346.3 1642.4,346.8 1645.6,346.2 1648.8,346.8 1652.0,343.9 1655.2,345.3 1658.4,346.8 1661.6,345.9 1664.8,346.7 1668.0,344.2 1671.2,345.3 1674.4,344.6 1677.6,345.5 1680.8,345.6 1684.0,343.8 1687.2,344.5 1690.4,344.7 1693.6,346.7 1696.8,346.3 1700.0,344.3 1703.2,346.4 1706.4,344.2 1709.6,345.8 1712.8,344.2 1716.0,343.8 1719.2,346.6 1722.4,344.5 1725.6,344.5 1728.8,346.9 1732.0,346.6 1735.2,344.7 1738.4,346.9 1741.6,345.5 1744.8,346.0 1748.0,344.5 1751.2,346.8 1754.4,346.0 1757.6,346.9 1760.8,346.7 1764.0,344.8 1767.2,345.0 1770.4,344.3 1773.6,344.3 1776.8,344.0 1780.0,344.8 1783.2,345.7 1786.4,343.8 1789.6,346.0 1792.8,344.9" fill="none" stroke="#6a6a6a" stroke-width="1.1" stroke-linejoin="round" stroke-linecap="round"/>
</g>
<g id="panel-d">
<polyline points="89.1,918.5 90.2,917.8 91.3,919.3 92.4,917.2 93.5,918.6 94.6,917.8 95.7,916.6 96.8,918.0 97.9,916.2 99.0,917.4 100.1,916.0 101.2,916.1 102.3,917.4 103.4,919.0 104.5,916.7 105.6,917.2 106.7,918.7 107.8,920.0 108.9,918.9 110.0,918.4 111.1,920.6 112.2,917.6 113.3,920.2 114.4,917.8 115.5,916.9 116.6,916.3 117.7,916.5 118.8,918.2 119.9,916.1 121.0,917.6 122.1,918.0 123.2,917.2 124.3,917.9 125.4,916.4 126.5,917.8 127.6,919.7 128.7,922.7 129.8,923.2 130.9,923.6 132.0,924.7 133.1,924.4 134.2,924.0 135.3,925.8 136.4,925.7 137.5,924.3 138.6,925.5 139.7,925.5 140.8,926.5 141.9,925.1 143.0,922.8 144.1,924.3 145.2,920.7 146.3,922.0 147.4,923.3 148.5,921.5 149.6,922.8 150.7,921.7 151.8,925.2 152.9,926.9 154.0,927.6 155.1,930.0 156.2,928.7 157.3,930.1 158.4,929.9 159.5,930.0 160.6,929.7 161.7,931.1 162.8,931.5 163.9,929.9 165.0,930.6 166.1,928.5 167.2,930.7 168.3,930.5 169.4,931.7 170.5,931.1 171.6,929.0 172.7,929.2 173.8,929.9 174.9,927.5 176.0,928.8 177.1,927.6 178.2,927.2 179.3,926.7 180.4,928.8 181.5,926.4 182.6,926.6 183.7,926.8 184.8,928.2 185.9,925.2 187.0,926.3 188.1,926.5 189.2,927.4 190.3,927.0 191.4,927.0 192.5,924.8 193.6,924.4 194.7,922.4 195.8,922.4 196.9,920.9 198.0,916.4 199.1,916.3 200.2,916.5 201.3,916.5 202.4,917.3 203.5,917.7 204.6,916.6 205.7,915.8 206.8,918.1 207.9,918.8 209.0,920.4 210.1,922.5 211.2,921.5 212.3,920.8 213.4,921.0 214.5,921.1 215.6,918.9 216.7,921.5 217.8,920.8 218.9,920.9 220.0,920.3 221.1,918.7 222.2,918.4 223.3,917.2 224.4,918.7 225.5,916.5 226.6,917.3 227.7,918.9 228.8,919.9 229.9,921.6 231.0,921.3 232.1,920.3 233.2,920.1 234.3,919.2 235.4,919.3 236.5,917.4 237.6,919.6 238.7,918.3 239.8,916.7 240.9,917.1 242.0,917.4 243.1,917.5 244.2,916.7 245.3,919.1 246.4,919.4 247.5,917.3 248.6,917.1 249.7,915.5 250.8,915.3 251.9,915.6 253.0,914.8 254.1,916.2 255.2,913.3 256.3,912.9 257.4,916.8 258.5,916.1 259.6,915.5 260.7,917.4 261.8,916.1 262.9,918.2 264.0,920.1 265.1,920.2 266.2,919.9 267.3,918.6 268.4,919.2 269.5,918.6 270.6,920.9 271.7,920.2 272.8,921.2 273.9,920.3 275.0,920.9 276.1,923.9 277.2,925.5 278.3,926.1 279.4,926.0 280.5,926.1 281.6,925.8 282.7,924.0 283.8,925.0 284.9,924.4 286.0,923.3 287.1,922.7 288.2,922.9 289.3,922.3 290.4,923.1 291.5,923.4 292.6,921.0 293.7,922.1 294.8,921.7 295.9,921.9 297.0,920.3 298.1,920.1 299.2,920.5 300.3,920.6 301.4,920.6 302.5,921.3 303.6,921.6 304.7,920.6 305.8,918.5 306.9,918.4 308.0,918.2 309.1,915.0 310.2,916.0 311.3,915.9 312.4,914.6 313.5,913.5 314.6,911.4 315.7,909.1 316.8,909.7 317.9,906.5 319.0,906.3 320.1,904.8 321.2,900.6 322.3,898.0 323.4,897.1 324.5,893.2 325.6,888.0 326.7,884.1 327.8,880.1 328.9,878.3 330.0,873.2 331.1,865.8 332.2,862.6 333.3,857.2 334.4,849.8 335.5,842.4 336.6,835.4 337.7,827.7 338.8,819.7 339.9,812.0 341.0,803.2 342.1,794.2 343.2,785.2 344.3,775.4 345.4,765.9 346.5,755.9 347.6,745.5 348.7,735.3 349.8,725.1 350.9,714.9 352.0,704.9 353.1,694.8 354.2,685.1 355.3,675.4 356.4,666.7 357.5,657.5 358.6,649.3 359.7,641.5 360.8,634.5 361.9,627.7 363.0,622.1 364.1,616.7 365.2,612.4 366.3,608.8 367.4,605.9 368.5,604.3 369.6,603.2 370.7,603.1 371.8,604.5 372.9,605.8 374.0,608.7 375.1,612.3 376.2,616.5 377.3,621.5 378.4,627.4 379.5,634.0 380.6,641.3 381.7,648.7 382.8,657.2 383.9,665.8 385.0,675.0 386.1,684.8 387.2,694.4 388.3,704.5 389.4,714.7 390.5,725.0 391.6,734.9 392.7,745.1 393.8,755.0 394.9,764.7 396.0,774.2 397.1,783.2 398.2,792.1 399.3,800.5 400.4,808.9 401.5,816.5 402.6,823.9 403.7,830.8 404.8,836.9 405.9,843.2 407.0,849.0 408.1,854.2 409.2,858.6 410.3,863.0 411.4,867.3 412.5,870.8 413.6,874.3 414.7,877.2 415.8,880.8 416.9,883.7 418.0,886.4 419.1,885.8 420.2,889.6 421.3,891.0 422.4,890.7 423.5,894.6 424.6,896.1 425.7,894.6 426.8,898.2 427.9,897.3 429.0,899.1 430.1,902.1 431.2,902.8 432.3,901.6 433.4,903.5 434.5,904.7 435.6,904.9 436.7,905.2 437.8,906.3 438.9,908.3 440.0,906.5 441.1,908.9 442.2,909.0 443.3,908.1 444.4,909.6 445.5,911.0 446.6,911.0 447.7,909.8 448.8,913.3 449.9,913.0 451.0,913.9 452.1,911.2 453.2,912.1 454.3,911.6 455.4,914.3 456.5,912.8 457.6,912.6 458.7,913.8 459.8,915.7 460.9,915.6 462.0,913.9 463.1,913.7 464.2,916.5 465.3,915.5 466.4,916.1 467.5,914.2 468.6,914.2 469.7,916.5 470.8,915.8 471.9,914.8 473.0,917.9 474.1,917.1 475.2,917.8 476.3,915.6 477.4,918.4 478.5,915.8 479.6,918.7 480.7,917.5 481.8,917.3 482.9,918.3 484.0,919.7 485.1,917.7 486.2,917.4 487.3,919.0 488.4,918.2 489.5,917.9 490.6,918.2 491.7,917.8 492.8,918.2 493.9,918.5 495.0,918.5 496.1,919.9 497.2,918.3 498.3,918.9 499.4,917.9 500.5,918.6 501.6,917.6 502.7,918.6 503.8,917.9 504.9,920.5 506.0,920.0 507.1,918.9 508.2,920.1 509.3,921.8 510.4,919.0 511.5,921.4 512.6,920.0 513.7,920.1 514.8,921.2 515.9,919.6 517.0,919.9 518.1,920.5 519.2,921.4 520.3,919.2 521.4,921.0 522.5,920.8 523.6,920.7 524.7,920.0 525.8,920.0 526.9,919.2 528.0,919.6 529.1,919.5 530.2,922.0 531.3,920.5 532.4,920.3 533.5,920.2 534.6,922.9 535.7,923.2 536.8,922.5 537.9,921.1 539.0,921.0 540.1,921.1 541.2,921.7 542.3,920.7 543.4,921.6 544.5,921.0 545.6,923.3 546.7,923.4 547.8,921.9 548.9,920.8 550.0,923.3 551.1,921.2 552.2,921.4 553.3,920.4 554.4,921.8 555.5,922.2 556.6,922.4 557.7,921.5 558.8,922.7 559.9,921.1 561.0,922.0 562.1,921.5 563.2,922.6 564.3,921.4 565.4,921.4 566.5,922.4 567.6,922.2 568.7,923.5 569.8,923.3 570.9,924.1 572.0,923.9 573.1,924.0 574.2,924.5 575.3,922.7 576.4,922.4 577.5,924.6 578.6,921.7 579.7,923.6 580.8,923.2 581.9,921.1 583.0,923.7 584.1,923.8 585.2,922.9 586.3,923.4 587.4,923.8 588.5,921.7 589.6,923.2 590.7,923.3 591.8,924.6 592.9,924.6 594.0,924.9 595.1,924.2 596.2,925.3 597.3,924.6 598.4,924.6 599.5,923.1 600.6,922.4 601.7,922.8 602.8,923.6 603.9,922.7 605.0,925.2 606.1,924.3 607.2,924.6 608.3,924.6 609.4,924.7 610.5,924.0 611.6,922.2 612.7,924.9 613.8,924.6 614.9,923.7 616.0,923.7 617.1,924.1 618.2,922.0 619.3,924.6 620.4,923.2 621.5,922.8 622.6,923.7 623.7,925.5 624.8,924.0 625.9,926.1 627.0,927.2 628.1,926.4 629.2,926.8 630.3,927.9 631.4,929.4 632.5,930.5 633.6,930.7 634.7,931.5 635.8,930.3 636.9,931.2 638.0,932.3 639.1,934.6 640.2,933.4 641.3,934.3 642.4,932.4 643.5,932.6 644.6,933.3 645.7,934.8 646.8,935.0 647.9,935.1 649.0,934.0 650.1,934.9" fill="none" stroke="#141212" stroke-width="3.0" stroke-linejoin="round" stroke-linecap="round"/>
<polyline points="87.5,919.7 88.3,919.7 89.0,919.7 89.7,919.7 90.5,919.7 91.2,919.7 91.9,919.7 92.7,919.7 93.4,919.7 94.2,919.7 94.9,919.7 95.6,919.7 96.4,919.7 97.1,919.7 97.9,919.7 98.6,919.7 99.3,919.7 100.1,919.7 100.8,919.7 101.5,919.7 102.3,919.7 103.0,919.7 103.8,919.7 104.5,919.7 105.2,919.7 106.0,919.7 106.7,919.7 107.4,919.7 108.2,919.7 108.9,919.7 109.7,919.7 110.4,919.7 111.1,919.7 111.9,919.7 112.6,919.7 113.4,919.7 114.1,919.7 114.8,919.7 115.6,919.7 116.3,919.7 117.0,919.7 117.8,919.7 118.5,919.7 119.3,919.7 120.0,919.7 120.7,919.7 121.5,919.7 122.2,919.7 122.9,919.7 123.7,919.7 124.4,919.7 125.2,919.7 125.9,919.7 126.6,919.7 127.4,919.7 128.1,919.7 128.8,919.7 129.6,919.7 130.3,919.7 131.1,919.7 131.8,919.7 132.5,919.7 133.3,919.7 134.0,919.7 134.8,919.7 135.5,919.7 136.2,919.7 137.0,919.7 137.7,919.7 138.4,919.7 139.2,919.7 139.9,919.7 140.7,919.7 141.4,919.7 142.1,919.7 142.9,919.7 143.6,919.7 144.3,919.7 145.1,919.7 145.8,919.7 146.6,919.7 147.3,919.7 148.0,919.7 148.8,919.7 149.5,919.7 150.3,919.7 151.0,919.7 151.7,919.7 152.5,919.7 153.2,919.7 153.9,919.7 154.7,919.7 155.4,919.7 156.2,919.7 156.9,919.7 157.6,919.7 158.4,919.7 159.1,919.7 159.8,919.7 160.6,919.7 161.3,919.7 162.1,919.7 162.8,919.7 163.5,919.7 164.3,919.7 165.0,919.7 165.7,919.7 166.5,919.7 167.2,919.7 168.0,919.7 168.7,919.7 169.4,919.7 170.2,919.7 170.9,919.7 171.7,919.7 172.4,919.7 173.1,919.7 173.9,919.7 174.6,919.7 175.3,919.7 176.1,919.7 176.8,919.7 177.6,919.7 178.3,919.7 179.0,919.7 179.8,919.7 180.5,919.7 181.2,919.7 182.0,919.7 182.7,919.7 183.5,919.7 184.2,919.7 184.9,919.7 185.7,919.7 186.4,919.7 187.2,919.7 187.9,919.7 188.6,919.7 189.4,919.7 190.1,919.7 190.8,919.7 191.6,919.7 192.3,919.7 193.1,919.7 193.8,919.7 194.5,919.7 195.3,919.7 196.0,919.7 196.7,919.7 197.5,919.7 198.2,919.7 199.0,919.7 199.7,919.7 200.4,919.7 201.2,919.7 201.9,919.7 202.6,919.7 203.4,919.7 204.1,919.7 204.9,919.7 205.6,919.7 206.3,919.7 207.1,919.7 207.8,919.7 208.6,919.7 209.3,919.7 210.0,919.7 210.8,919.7 211.5,919.7 212.2,919.7 213.0,919.7 213.7,919.7 214.5,919.7 215.2,919.7 215.9,919.7 216.7,919.7 217.4,919.7 218.1,919.7 218.9,919.7 219.6,919.7 220.4,919.7 221.1,919.7 221.8,919.7 222.6,919.7 223.3,919.7 224.1,919.7 224.8,919.7 225.5,919.7 226.3,919.7 227.0,919.7 227.7,919.7 228.5,919.7 229.2,919.7 230.0,919.7 230.7,919.7 231.4,919.7 232.2,919.7 232.9,919.7 233.6,919.7 234.4,919.7 235.1,919.7 235.9,919.7 236.6,919.7 237.3,919.7 238.1,919.7 238.8,919.7 239.5,919.7 240.3,919.7 241.0,919.7 241.8,919.7 242.5,919.7 243.2,919.7 244.0,919.7 244.7,919.7 245.5,919.7 246.2,919.7 246.9,919.7 247.7,919.7 248.4,919.7 249.1,919.7 249.9,919.7 250.6,919.7 251.4,919.7 252.1,919.7 252.8,919.7 253.6,919.7 254.3,919.7 255.0,919.7 255.8,919.7 256.5,919.7 257.3,919.7 258.0,919.7 258.7,919.7 259.5,919.7 260.2,919.7 261.0,919.7 261.7,919.7 262.4,919.7 263.2,919.7 263.9,919.7 264.6,919.7 265.4,919.7 266.1,919.7 266.9,919.7 267.6,919.7 268.3,919.7 269.1,919.7 269.8,919.7 270.5,919.7 271.3,919.7 272.0,919.7 272.8,919.7 273.5,919.7 274.2,919.7 275.0,919.7 275.7,919.7 276.4,919.7 277.2,919.7 277.9,919.7 278.7,919.7 279.4,919.7 280.1,919.7 280.9,919.7 281.6,919.7 282.4,919.7 283.1,919.7 283.8,919.7 284.6,919.6 285.3,919.6 286.0,919.6 286.8,919.6 287.5,919.6 288.3,919.6 289.0,919.6 289.7,919.6 290.5,919.5 291.2,919.5 291.9,919.5 292.7,919.4 293.4,919.4 294.2,919.4 294.9,919.3 295.6,919.3 296.4,919.2 297.1,919.1 297.9,919.1 298.6,919.0 299.3,918.9 300.1,918.8 300.8,918.6 301.5,918.5 302.3,918.4 303.0,918.2 303.8,918.0 304.5,917.8 305.2,917.6 306.0,917.3 306.7,917.0 307.4,916.7 308.2,916.4 308.9,916.0 309.7,915.6 310.4,915.2 311.1,914.7 311.9,914.1 312.6,913.5 313.3,912.9 314.1,912.2 314.8,911.4 315.6,910.6 316.3,909.7 317.0,908.7 317.8,907.6 318.5,906.5 319.3,905.2 320.0,903.9 320.7,902.5 321.5,900.9 322.2,899.3 322.9,897.5 323.7,895.7 324.4,893.6 325.2,891.5 325.9,889.2 326.6,886.8 327.4,884.2 328.1,881.5 328.8,878.6 329.6,875.6 330.3,872.4 331.1,869.0 331.8,865.5 332.5,861.8 333.3,857.9 334.0,853.9 334.8,849.6 335.5,845.2 336.2,840.6 337.0,835.9 337.7,831.0 338.4,825.9 339.2,820.6 339.9,815.2 340.7,809.6 341.4,803.9 342.1,798.0 342.9,792.0 343.6,785.8 344.3,779.6 345.1,773.2 345.8,766.8 346.6,760.3 347.3,753.7 348.0,747.1 348.8,740.4 349.5,733.7 350.2,727.0 351.0,720.4 351.7,713.7 352.5,707.1 353.2,700.6 353.9,694.2 354.7,687.9 355.4,681.7 356.2,675.6 356.9,669.8 357.6,664.1 358.4,658.6 359.1,653.4 359.8,648.4 360.6,643.6 361.3,639.1 362.1,635.0 362.8,631.1 363.5,627.6 364.3,624.4 365.0,621.5 365.7,619.0 366.5,616.9 367.2,615.1 368.0,613.7 368.7,612.7 369.4,612.2 370.2,612.0 370.9,612.2 371.7,612.7 372.4,613.7 373.1,615.1 373.9,616.9 374.6,619.0 375.3,621.5 376.1,624.4 376.8,627.6 377.6,631.1 378.3,635.0 379.0,639.1 379.8,643.6 380.5,648.4 381.2,653.4 382.0,658.6 382.7,664.1 383.5,669.8 384.2,675.6 384.9,681.7 385.7,687.9 386.4,694.2 387.1,700.6 387.9,707.1 388.6,713.7 389.4,720.4 390.1,727.0 390.8,733.7 391.6,740.4 392.3,747.1 393.1,753.7 393.8,760.3 394.5,766.8 395.3,773.2 396.0,779.6 396.7,785.8 397.5,792.0 398.2,798.0 399.0,803.9 399.7,809.6 400.4,815.2 401.2,820.6 401.9,825.9 402.6,831.0 403.4,835.9 404.1,840.6 404.9,845.2 405.6,849.6 406.3,853.9 407.1,857.9 407.8,861.8 408.6,865.5 409.3,869.0 410.0,872.4 410.8,875.6 411.5,878.6 412.2,881.5 413.0,884.2 413.7,886.8 414.5,889.2 415.2,891.5 415.9,893.6 416.7,895.7 417.4,897.5 418.1,899.3 418.9,900.9 419.6,902.5 420.4,903.9 421.1,905.2 421.8,906.5 422.6,907.6 423.3,908.7 424.0,909.7 424.8,910.6 425.5,911.4 426.3,912.2 427.0,912.9 427.7,913.5 428.5,914.1 429.2,914.7 430.0,915.2 430.7,915.6 431.4,916.0 432.2,916.4 432.9,916.7 433.6,917.0 434.4,917.3 435.1,917.6 435.9,917.8 436.6,918.0 437.3,918.2 438.1,918.4 438.8,918.5 439.5,918.6 440.3,918.8 441.0,918.9 441.8,919.0 442.5,919.1 443.2,919.1 444.0,919.2 444.7,919.3 445.5,919.3 446.2,919.4 446.9,919.4 447.7,919.4 448.4,919.5 449.1,919.5 449.9,919.5 450.6,919.6 451.4,919.6 452.1,919.6 452.8,919.6 453.6,919.6 454.3,919.6 455.0,919.6 455.8,919.6 456.5,919.7 457.3,919.7 458.0,919.7 458.7,919.7 459.5,919.7 460.2,919.7 460.9,919.7 461.7,919.7 462.4,919.7 463.2,919.7 463.9,919.7 464.6,919.7 465.4,919.7 466.1,919.7 466.9,919.7 467.6,919.7 468.3,919.7 469.1,919.7 469.8,919.7 470.5,919.7 471.3,919.7 472.0,919.7 472.8,919.7 473.5,919.7 474.2,919.7 475.0,919.7 475.7,919.7 476.4,919.7 477.2,919.7 477.9,919.7 478.7,919.7 479.4,919.7 480.1,919.7 480.9,919.7 481.6,919.7 482.4,919.7 483.1,919.7 483.8,919.7 484.6,919.7 485.3,919.7 486.0,919.7 486.8,919.7 487.5,919.7 488.3,919.7 489.0,919.7 489.7,919.7 490.5,919.7 491.2,919.7 491.9,919.7 492.7,919.7 493.4,919.7 494.2,919.7 494.9,919.7 495.6,919.7 496.4,919.7 497.1,919.7 497.8,919.7 498.6,919.7 499.3,919.7 500.1,919.7 500.8,919.7 501.5,919.7 502.3,919.7 503.0,919.7 503.8,919.7 504.5,919.7 505.2,919.7 506.0,919.7 506.7,919.7 507.4,919.7 508.2,919.7 508.9,919.7 509.7,919.7 510.4,919.7 511.1,919.7 511.9,919.7 512.6,919.7 513.3,919.7 514.1,919.7 514.8,919.7 515.6,919.7 516.3,919.7 517.0,919.7 517.8,919.7 518.5,919.7 519.3,919.7 520.0,919.7 520.7,919.7 521.5,919.7 522.2,919.7 522.9,919.7 523.7,919.7 524.4,919.7 525.2,919.7 525.9,919.7 526.6,919.7 527.4,919.7 528.1,919.7 528.8,919.7 529.6,919.7 530.3,919.7 531.1,919.7 531.8,919.7 532.5,919.7 533.3,919.7 534.0,919.7 534.7,919.7 535.5,919.7 536.2,919.7 537.0,919.7 537.7,919.7 538.4,919.7 539.2,919.7 539.9,919.7 540.7,919.7 541.4,919.7 542.1,919.7 542.9,919.7 543.6,919.7 544.3,919.7 545.1,919.7 545.8,919.7 546.6,919.7 547.3,919.7 548.0,919.7 548.8,919.7 549.5,919.7 550.2,919.7 551.0,919.7 551.7,919.7 552.5,919.7 553.2,919.7 553.9,919.7 554.7,919.7 555.4,919.7 556.2,919.7 556.9,919.7 557.6,919.7 558.4,919.7 559.1,919.7 559.8,919.7 560.6,919.7 561.3,919.7 562.1,919.7 562.8,919.7 563.5,919.7 564.3,919.7 565.0,919.7 565.7,919.7 566.5,919.7 567.2,919.7 568.0,919.7 568.7,919.7 569.4,919.7 570.2,919.7 570.9,919.7 571.6,919.7 572.4,919.7 573.1,919.7 573.9,919.7 574.6,919.7 575.3,919.7 576.1,919.7 576.8,919.7 577.6,919.7 578.3,919.7 579.0,919.7 579.8,919.7 580.5,919.7 581.2,919.7 582.0,919.7 582.7,919.7 583.5,919.7 584.2,919.7 584.9,919.7 585.7,919.7 586.4,919.7 587.1,919.7 587.9,919.7 588.6,919.7 589.4,919.7 590.1,919.7 590.8,919.7 591.6,919.7 592.3,919.7 593.1,919.7 593.8,919.7 594.5,919.7 595.3,919.7 596.0,919.7 596.7,919.7 597.5,919.7 598.2,919.7 599.0,919.7 599.7,919.7 600.4,919.7 601.2,919.7 601.9,919.7 602.6,919.7 603.4,919.7 604.1,919.7 604.9,919.7 605.6,919.7 606.3,919.7 607.1,919.7 607.8,919.7 608.5,919.7 609.3,919.7 610.0,919.7 610.8,919.7 611.5,919.7 612.2,919.7 613.0,919.7 613.7,919.7 614.5,919.7 615.2,919.7 615.9,919.7 616.7,919.7 617.4,919.7 618.1,919.7 618.9,919.7 619.6,919.7 620.4,919.7 621.1,919.7 621.8,919.7 622.6,919.7 623.3,919.7 624.0,919.7 624.8,919.7 625.5,919.7 626.3,919.7 627.0,919.7 627.7,919.7 628.5,919.7 629.2,919.7 630.0,919.7 630.7,919.7 631.4,919.7 632.2,919.7 632.9,919.7 633.6,919.7 634.4,919.7 635.1,919.7 635.9,919.7 636.6,919.7 637.3,919.7 638.1,919.7 638.8,919.7 639.5,919.7 640.3,919.7 641.0,919.7 641.8,919.7 642.5,919.7 643.2,919.7 644.0,919.7 644.7,919.7 645.4,919.7 646.2,919.7 646.9,919.7 647.7,919.7 648.4,919.7 649.1,919.7 649.9,919.7" fill="none" stroke="#d23c5c" stroke-width="1.8" stroke-linejoin="round" stroke-linecap="round" stroke-opacity="0.9"/>
<rect x="88.6" y="552.8" width="562.6" height="400.4" rx="0" fill="none" stroke="#262626" stroke-width="2.8"/>
<line x1="88.6" y1="920.0" x2="98.1" y2="920.0" stroke="#262626" stroke-width="2.4"/>
<line x1="651.2" y1="920.0" x2="641.7" y2="920.0" stroke="#262626" stroke-width="2.4"/>
<text x="79.0" y="928.0" font-family="'Liberation Sans', Arial, sans-serif" font-size="23.5" font-weight="bold" fill="#1e1e1e" text-anchor="end" textLength="36.5" lengthAdjust="spacingAndGlyphs">0.0</text>
<line x1="88.6" y1="888.0" x2="93.6" y2="888.0" stroke="#262626" stroke-width="2.4"/>
<line x1="651.2" y1="888.0" x2="646.2" y2="888.0" stroke="#262626" stroke-width="2.4"/>
<line x1="88.6" y1="856.0" x2="98.1" y2="856.0" stroke="#262626" stroke-width="2.4"/>
<line x1="651.2" y1="856.0" x2="641.7" y2="856.0" stroke="#262626" stroke-width="2.4"/>
<text x="79.0" y="864.0" font-family="'Liberation Sans', Arial, sans-serif" font-size="23.5" font-weight="bold" fill="#1e1e1e" text-anchor="end" textLength="36.5" lengthAdjust="spacingAndGlyphs">0.2</text>
<line x1="88.6" y1="824.0" x2="93.6" y2="824.0" stroke="#262626" stroke-width="2.4"/>
<line x1="651.2" y1="824.0" x2="646.2" y2="824.0" stroke="#262626" stroke-width="2.4"/>
<line x1="88.6" y1="792.0" x2="98.1" y2="792.0" stroke="#262626" stroke-width="2.4"/>
<line x1="651.2" y1="792.0" x2="641.7" y2="792.0" stroke="#262626" stroke-width="2.4"/>
<text x="79.0" y="800.0" font-family="'Liberation Sans', Arial, sans-serif" font-size="23.5" font-weight="bold" fill="#1e1e1e" text-anchor="end" textLength="36.5" lengthAdjust="spacingAndGlyphs">0.4</text>
<line x1="88.6" y1="760.0" x2="93.6" y2="760.0" stroke="#262626" stroke-width="2.4"/>
<line x1="651.2" y1="760.0" x2="646.2" y2="760.0" stroke="#262626" stroke-width="2.4"/>
<line x1="88.6" y1="728.1" x2="98.1" y2="728.1" stroke="#262626" stroke-width="2.4"/>
<line x1="651.2" y1="728.1" x2="641.7" y2="728.1" stroke="#262626" stroke-width="2.4"/>
<text x="79.0" y="736.1" font-family="'Liberation Sans', Arial, sans-serif" font-size="23.5" font-weight="bold" fill="#1e1e1e" text-anchor="end" textLength="36.5" lengthAdjust="spacingAndGlyphs">0.6</text>
<line x1="88.6" y1="696.1" x2="93.6" y2="696.1" stroke="#262626" stroke-width="2.4"/>
<line x1="651.2" y1="696.1" x2="646.2" y2="696.1" stroke="#262626" stroke-width="2.4"/>
<line x1="88.6" y1="664.1" x2="98.1" y2="664.1" stroke="#262626" stroke-width="2.4"/>
<line x1="651.2" y1="664.1" x2="641.7" y2="664.1" stroke="#262626" stroke-width="2.4"/>
<text x="79.0" y="672.1" font-family="'Liberation Sans', Arial, sans-serif" font-size="23.5" font-weight="bold" fill="#1e1e1e" text-anchor="end" textLength="36.5" lengthAdjust="spacingAndGlyphs">0.8</text>
<line x1="88.6" y1="632.1" x2="93.6" y2="632.1" stroke="#262626" stroke-width="2.4"/>
<line x1="651.2" y1="632.1" x2="646.2" y2="632.1" stroke="#262626" stroke-width="2.4"/>
<line x1="88.6" y1="600.1" x2="98.1" y2="600.1" stroke="#262626" stroke-width="2.4"/>
<line x1="651.2" y1="600.1" x2="641.7" y2="600.1" stroke="#262626" stroke-width="2.4"/>
<text x="79.0" y="608.1" font-family="'Liberation Sans', Arial, sans-serif" font-size="23.5" font-weight="bold" fill="#1e1e1e" text-anchor="end" textLength="36.5" lengthAdjust="spacingAndGlyphs">1.0</text>
<line x1="88.6" y1="568.1" x2="93.6" y2="568.1" stroke="#262626" stroke-width="2.4"/>
<line x1="651.2" y1="568.1" x2="646.2" y2="568.1" stroke="#262626" stroke-width="2.4"/>
<line x1="110.4" y1="552.8" x2="110.4" y2="557.8" stroke="#262626" stroke-width="2.4"/>
<line x1="110.4" y1="953.2" x2="110.4" y2="948.2" stroke="#262626" stroke-width="2.4"/>
<line x1="147.3" y1="552.8" x2="147.3" y2="562.3" stroke="#262626" stroke-width="2.4"/>
<line x1="147.3" y1="953.2" x2="147.3" y2="943.7" stroke="#262626" stroke-width="2.4"/>
<text x="147.3" y="981.5" font-family="'Liberation Sans', Arial, sans-serif" font-size="24" font-weight="bold" fill="#1e1e1e" text-anchor="middle" textLength="24.5" lengthAdjust="spacingAndGlyphs">-3</text>
<line x1="184.2" y1="552.8" x2="184.2" y2="557.8" stroke="#262626" stroke-width="2.4"/>
<line x1="184.2" y1="953.2" x2="184.2" y2="948.2" stroke="#262626" stroke-width="2.4"/>
<line x1="221.1" y1="552.8" x2="221.1" y2="562.3" stroke="#262626" stroke-width="2.4"/>
<line x1="221.1" y1="953.2" x2="221.1" y2="943.7" stroke="#262626" stroke-width="2.4"/>
<text x="221.1" y="981.5" font-family="'Liberation Sans', Arial, sans-serif" font-size="24" font-weight="bold" fill="#1e1e1e" text-anchor="middle" textLength="24.5" lengthAdjust="spacingAndGlyphs">-2</text>
<line x1="258.0" y1="552.8" x2="258.0" y2="557.8" stroke="#262626" stroke-width="2.4"/>
<line x1="258.0" y1="953.2" x2="258.0" y2="948.2" stroke="#262626" stroke-width="2.4"/>
<line x1="294.9" y1="552.8" x2="294.9" y2="562.3" stroke="#262626" stroke-width="2.4"/>
<line x1="294.9" y1="953.2" x2="294.9" y2="943.7" stroke="#262626" stroke-width="2.4"/>
<text x="294.9" y="981.5" font-family="'Liberation Sans', Arial, sans-serif" font-size="24" font-weight="bold" fill="#1e1e1e" text-anchor="middle" textLength="24.5" lengthAdjust="spacingAndGlyphs">-1</text>
<line x1="331.8" y1="552.8" x2="331.8" y2="557.8" stroke="#262626" stroke-width="2.4"/>
<line x1="331.8" y1="953.2" x2="331.8" y2="948.2" stroke="#262626" stroke-width="2.4"/>
<line x1="368.7" y1="552.8" x2="368.7" y2="562.3" stroke="#262626" stroke-width="2.4"/>
<line x1="368.7" y1="953.2" x2="368.7" y2="943.7" stroke="#262626" stroke-width="2.4"/>
<text x="368.7" y="981.5" font-family="'Liberation Sans', Arial, sans-serif" font-size="24" font-weight="bold" fill="#1e1e1e" text-anchor="middle" textLength="14.5" lengthAdjust="spacingAndGlyphs">0</text>
<line x1="405.6" y1="552.8" x2="405.6" y2="557.8" stroke="#262626" stroke-width="2.4"/>
<line x1="405.6" y1="953.2" x2="405.6" y2="948.2" stroke="#262626" stroke-width="2.4"/>
<line x1="442.5" y1="552.8" x2="442.5" y2="562.3" stroke="#262626" stroke-width="2.4"/>
<line x1="442.5" y1="953.2" x2="442.5" y2="943.7" stroke="#262626" stroke-width="2.4"/>
<text x="442.5" y="981.5" font-family="'Liberation Sans', Arial, sans-serif" font-size="24" font-weight="bold" fill="#1e1e1e" text-anchor="middle" textLength="14.5" lengthAdjust="spacingAndGlyphs">1</text>
<line x1="479.4" y1="552.8" x2="479.4" y2="557.8" stroke="#262626" stroke-width="2.4"/>
<line x1="479.4" y1="953.2" x2="479.4" y2="948.2" stroke="#262626" stroke-width="2.4"/>
<line x1="516.3" y1="552.8" x2="516.3" y2="562.3" stroke="#262626" stroke-width="2.4"/>
<line x1="516.3" y1="953.2" x2="516.3" y2="943.7" stroke="#262626" stroke-width="2.4"/>
<text x="516.3" y="981.5" font-family="'Liberation Sans', Arial, sans-serif" font-size="24" font-weight="bold" fill="#1e1e1e" text-anchor="middle" textLength="14.5" lengthAdjust="spacingAndGlyphs">2</text>
<line x1="553.2" y1="552.8" x2="553.2" y2="557.8" stroke="#262626" stroke-width="2.4"/>
<line x1="553.2" y1="953.2" x2="553.2" y2="948.2" stroke="#262626" stroke-width="2.4"/>
<line x1="590.1" y1="552.8" x2="590.1" y2="562.3" stroke="#262626" stroke-width="2.4"/>
<line x1="590.1" y1="953.2" x2="590.1" y2="943.7" stroke="#262626" stroke-width="2.4"/>
<text x="590.1" y="981.5" font-family="'Liberation Sans', Arial, sans-serif" font-size="24" font-weight="bold" fill="#1e1e1e" text-anchor="middle" textLength="14.5" lengthAdjust="spacingAndGlyphs">3</text>
<line x1="627.0" y1="552.8" x2="627.0" y2="557.8" stroke="#262626" stroke-width="2.4"/>
<line x1="627.0" y1="953.2" x2="627.0" y2="948.2" stroke="#262626" stroke-width="2.4"/>
<text x="297.0" y="1030.6" font-family="'Liberation Sans', Arial, sans-serif" font-size="30" font-weight="bold" fill="#1e1e1e" textLength="146.0" lengthAdjust="spacingAndGlyphs">Time (ps)</text>
<text x="24.0" y="927.5" font-family="'Liberation Sans', Arial, sans-serif" font-size="29" font-weight="bold" fill="#1e1e1e" textLength="308.0" lengthAdjust="spacingAndGlyphs" transform="rotate(-90 24.0 927.5)">Intensity (arb. units)</text>
<circle cx="117" cy="584.5" r="1.8" fill="#222"/>
<text x="147.5" y="590.5" font-family="'Liberation Sans', Arial, sans-serif" font-size="24.5" font-weight="bold" fill="#1e1e1e" textLength="218.0" lengthAdjust="spacingAndGlyphs">Experimental data</text>
<line x1="95.5" y1="623.0" x2="140.0" y2="623.0" stroke="#d8506a" stroke-width="2"/>
<text x="147.5" y="630.3" font-family="'Liberation Sans', Arial, sans-serif" font-size="24.5" font-weight="bold" fill="#1e1e1e" textLength="199.5" lengthAdjust="spacingAndGlyphs">Gaussian Fitting</text>
<text x="2.5" y="569.5" font-family="'Liberation Serif', 'Times New Roman', serif" font-size="67" font-weight="normal" fill="#111" textLength="82.5" lengthAdjust="spacingAndGlyphs">(d)</text>
</g>
<g id="panel-e">
<defs><linearGradient id="gband" x1="0" y1="0" x2="0" y2="1"><stop offset="0" stop-color="#2c9a3a"/><stop offset="0.08" stop-color="#1f9a34"/><stop offset="0.5" stop-color="#27a838"/><stop offset="0.88" stop-color="#1fa03a"/><stop offset="0.93" stop-color="#5ccc3c"/><stop offset="1" stop-color="#3cb83a"/></linearGradient></defs>
<rect x="917.8" y="556.5" width="236.6" height="129.5" rx="0" fill="#0d0b0b" stroke="none" stroke-width="0"/>
<rect x="917.8" y="573.4" width="236.6" height="62.3" rx="0" fill="url(#gband)" stroke="none" stroke-width="0"/>
<rect x="919.0" y="576" width="1.0" height="43.9" fill="#2fb23c" opacity="0.54"/>
<rect x="924.0" y="576" width="2.2" height="47.2" fill="#45c445" opacity="0.71"/>
<rect x="927.7" y="576" width="1.1" height="53.1" fill="#178a2c" opacity="0.36"/>
<rect x="931.2" y="576" width="1.0" height="49.7" fill="#3cbc40" opacity="0.76"/>
<rect x="934.7" y="576" width="2.2" height="40.5" fill="#45c445" opacity="0.63"/>
<rect x="937.9" y="576" width="1.5" height="53.1" fill="#178a2c" opacity="0.64"/>
<rect x="940.0" y="576" width="1.8" height="53.0" fill="#178a2c" opacity="0.41"/>
<rect x="943.6" y="576" width="1.6" height="42.1" fill="#129030" opacity="0.53"/>
<rect x="947.9" y="576" width="1.5" height="42.8" fill="#3cbc40" opacity="0.38"/>
<rect x="952.3" y="576" width="1.9" height="50.7" fill="#2fb23c" opacity="0.69"/>
<rect x="956.3" y="576" width="1.8" height="47.8" fill="#178a2c" opacity="0.60"/>
<rect x="959.6" y="576" width="1.3" height="45.7" fill="#3cbc40" opacity="0.75"/>
<rect x="962.9" y="576" width="1.4" height="46.8" fill="#45c445" opacity="0.49"/>
<rect x="965.9" y="576" width="2.0" height="53.9" fill="#3cbc40" opacity="0.67"/>
<rect x="969.6" y="576" width="1.5" height="47.3" fill="#1a8c30" opacity="0.62"/>
<rect x="973.6" y="576" width="1.2" height="49.4" fill="#1a8c30" opacity="0.40"/>
<rect x="977.8" y="576" width="2.0" height="48.4" fill="#129030" opacity="0.51"/>
<rect x="980.9" y="576" width="0.9" height="42.4" fill="#178a2c" opacity="0.77"/>
<rect x="984.4" y="576" width="1.0" height="52.6" fill="#178a2c" opacity="0.65"/>
<rect x="989.7" y="576" width="1.4" height="48.3" fill="#3cbc40" opacity="0.78"/>
<rect x="994.8" y="576" width="1.5" height="53.1" fill="#45c445" opacity="0.65"/>
<rect x="997.7" y="576" width="1.6" height="50.8" fill="#45c445" opacity="0.71"/>
<rect x="1001.4" y="576" width="2.0" height="49.2" fill="#178a2c" opacity="0.73"/>
<rect x="1003.5" y="576" width="1.1" height="44.7" fill="#45c445" opacity="0.38"/>
<rect x="1008.6" y="576" width="2.2" height="40.7" fill="#2fb23c" opacity="0.68"/>
<rect x="1011.1" y="576" width="1.7" height="53.3" fill="#2fb23c" opacity="0.57"/>
<rect x="1016.3" y="576" width="1.3" height="48.4" fill="#3cbc40" opacity="0.75"/>
<rect x="1019.7" y="576" width="1.6" height="47.5" fill="#45c445" opacity="0.49"/>
<rect x="1022.7" y="576" width="1.9" height="41.8" fill="#178a2c" opacity="0.52"/>
<rect x="1027.2" y="576" width="1.2" height="51.9" fill="#129030" opacity="0.64"/>
<rect x="1031.3" y="576" width="1.2" height="51.4" fill="#45c445" opacity="0.69"/>
<rect x="1033.7" y="576" width="1.0" height="40.4" fill="#45c445" opacity="0.39"/>
<rect x="1037.3" y="576" width="1.0" height="41.8" fill="#178a2c" opacity="0.64"/>
<rect x="1041.2" y="576" width="1.3" height="48.7" fill="#45c445" opacity="0.75"/>
<rect x="1043.8" y="576" width="2.0" height="47.7" fill="#3cbc40" opacity="0.67"/>
<rect x="1046.0" y="576" width="1.8" height="51.1" fill="#2fb23c" opacity="0.70"/>
<rect x="1048.0" y="576" width="1.4" height="47.9" fill="#178a2c" opacity="0.53"/>
<rect x="1053.0" y="576" width="1.1" height="50.4" fill="#2fb23c" opacity="0.62"/>
<rect x="1055.9" y="576" width="1.0" height="44.1" fill="#2fb23c" opacity="0.76"/>
<rect x="1059.6" y="576" width="1.6" height="48.4" fill="#1a8c30" opacity="0.39"/>
<rect x="1063.4" y="576" width="1.8" height="49.8" fill="#1a8c30" opacity="0.49"/>
<rect x="1067.2" y="576" width="1.6" height="44.6" fill="#178a2c" opacity="0.63"/>
<rect x="1070.0" y="576" width="0.9" height="41.5" fill="#2fb23c" opacity="0.80"/>
<rect x="1072.2" y="576" width="0.9" height="53.3" fill="#45c445" opacity="0.58"/>
<rect x="1076.6" y="576" width="1.8" height="45.5" fill="#45c445" opacity="0.58"/>
<rect x="1080.0" y="576" width="1.1" height="40.6" fill="#178a2c" opacity="0.65"/>
<rect x="1083.0" y="576" width="1.6" height="46.4" fill="#45c445" opacity="0.68"/>
<rect x="1085.8" y="576" width="1.3" height="52.8" fill="#45c445" opacity="0.45"/>
<rect x="1090.1" y="576" width="0.9" height="50.0" fill="#3cbc40" opacity="0.57"/>
<rect x="1095.2" y="576" width="1.9" height="48.7" fill="#2fb23c" opacity="0.63"/>
<rect x="1099.8" y="576" width="1.6" height="46.7" fill="#2fb23c" opacity="0.47"/>
<rect x="1103.5" y="576" width="1.2" height="53.5" fill="#45c445" opacity="0.72"/>
<rect x="1109.0" y="576" width="0.8" height="52.3" fill="#129030" opacity="0.44"/>
<rect x="1113.5" y="576" width="0.9" height="44.2" fill="#3cbc40" opacity="0.39"/>
<rect x="1118.8" y="576" width="1.8" height="53.9" fill="#45c445" opacity="0.79"/>
<rect x="1121.4" y="576" width="1.4" height="49.0" fill="#2fb23c" opacity="0.50"/>
<rect x="1125.7" y="576" width="1.2" height="43.6" fill="#178a2c" opacity="0.49"/>
<rect x="1130.7" y="576" width="1.0" height="43.3" fill="#2fb23c" opacity="0.58"/>
<rect x="1135.1" y="576" width="1.8" height="46.5" fill="#3cbc40" opacity="0.77"/>
<rect x="1138.6" y="576" width="1.7" height="49.3" fill="#129030" opacity="0.65"/>
<rect x="1142.8" y="576" width="0.9" height="51.3" fill="#3cbc40" opacity="0.37"/>
<rect x="1148.1" y="576" width="1.8" height="48.1" fill="#178a2c" opacity="0.38"/>
<rect x="1151.5" y="576" width="1.4" height="40.1" fill="#45c445" opacity="0.46"/>
<line x1="955.0" y1="640.0" x2="955.0" y2="684.0" stroke="#1e1a18" stroke-width="1.2"/>
<line x1="975.0" y1="640.0" x2="975.0" y2="684.0" stroke="#1e1a18" stroke-width="1.2"/>
<line x1="1003.0" y1="640.0" x2="1003.0" y2="684.0" stroke="#1e1a18" stroke-width="1.2"/>
<line x1="1030.0" y1="640.0" x2="1030.0" y2="684.0" stroke="#1e1a18" stroke-width="1.2"/>
<line x1="1060.0" y1="640.0" x2="1060.0" y2="684.0" stroke="#1e1a18" stroke-width="1.2"/>
<line x1="1085.0" y1="640.0" x2="1085.0" y2="684.0" stroke="#1e1a18" stroke-width="1.2"/>
<line x1="1110.0" y1="640.0" x2="1110.0" y2="684.0" stroke="#1e1a18" stroke-width="1.2"/>
<line x1="1132.0" y1="640.0" x2="1132.0" y2="684.0" stroke="#1e1a18" stroke-width="1.2"/>
<rect x="917.8" y="685.8" width="236.6" height="7.3" rx="0" fill="#e6e2c8" stroke="none" stroke-width="0"/>
<rect x="937.7" y="687.0" width="29.2" height="5.0" rx="0" fill="#8a8270" stroke="none" stroke-width="0"/>
<rect x="983.8" y="687.0" width="33.8" height="5.0" rx="0" fill="#1a1712" stroke="none" stroke-width="0"/>
<rect x="1042.2" y="687.0" width="38.4" height="5.0" rx="0" fill="#1a1712" stroke="none" stroke-width="0"/>
<rect x="1108.3" y="687.0" width="30.7" height="5.0" rx="0" fill="#1a1712" stroke="none" stroke-width="0"/>
<path d="M 794.3 937.8 L 794.9 898.5 L 795.1 701.4 Q 796.1 699.4 797.1 701.4 L 797.3 898.5 L 797.9 937.8 Z" fill="#1e1c1c"/>
<path d="M 834.2 937.8 L 834.8 898.5 L 835.0 704.6 Q 836.0 702.6 837.0 704.6 L 837.2 898.5 L 837.8 937.8 Z" fill="#1e1c1c"/>
<path d="M 874.1 937.8 L 874.7 898.5 L 874.9 703.0 Q 875.9 701.0 876.9 703.0 L 877.1 898.5 L 877.7 937.8 Z" fill="#1e1c1c"/>
<path d="M 913.9 937.8 L 914.5 898.5 L 914.7 701.4 Q 915.7 699.4 916.7 701.4 L 916.9 898.5 L 917.5 937.8 Z" fill="#1e1c1c"/>
<path d="M 953.8 937.8 L 954.4 898.5 L 954.6 703.0 Q 955.6 701.0 956.6 703.0 L 956.8 898.5 L 957.4 937.8 Z" fill="#1e1c1c"/>
<path d="M 993.7 937.8 L 994.3 898.5 L 994.5 703.0 Q 995.5 701.0 996.5 703.0 L 996.7 898.5 L 997.3 937.8 Z" fill="#1e1c1c"/>
<path d="M 1033.6 937.8 L 1034.2 898.5 L 1034.4 704.6 Q 1035.4 702.6 1036.4 704.6 L 1036.6 898.5 L 1037.2 937.8 Z" fill="#1e1c1c"/>
<path d="M 1073.5 937.8 L 1074.1 898.5 L 1074.3 703.0 Q 1075.3 701.0 1076.3 703.0 L 1076.5 898.5 L 1077.1 937.8 Z" fill="#1e1c1c"/>
<path d="M 1113.3 937.8 L 1113.9 898.5 L 1114.1 703.0 Q 1115.1 701.0 1116.1 703.0 L 1116.3 898.5 L 1116.9 937.8 Z" fill="#1e1c1c"/>
<path d="M 1153.2 937.8 L 1153.8 898.5 L 1154.0 701.4 Q 1155.0 699.4 1156.0 701.4 L 1156.2 898.5 L 1156.8 937.8 Z" fill="#1e1c1c"/>
<path d="M 1193.1 937.8 L 1193.7 898.5 L 1193.9 703.0 Q 1194.9 701.0 1195.9 703.0 L 1196.1 898.5 L 1196.7 937.8 Z" fill="#1e1c1c"/>
<path d="M 1233.0 937.8 L 1233.6 898.5 L 1233.8 696.7 Q 1234.8 694.7 1235.8 696.7 L 1236.0 898.5 L 1236.6 937.8 Z" fill="#1e1c1c"/>
<path d="M 1272.9 937.8 L 1273.5 898.5 L 1273.7 701.4 Q 1274.7 699.4 1275.7 701.4 L 1275.9 898.5 L 1276.5 937.8 Z" fill="#1e1c1c"/>
<polyline points="764.2,936.5 765.8,936.0 767.4,937.0 769.0,936.2 770.6,935.9 772.2,937.0 773.8,938.6 775.4,938.3 777.0,938.1 778.6,936.4 780.2,937.4 781.8,936.6 783.4,936.3 785.0,936.0 786.6,936.4 788.2,938.7 789.8,938.4 791.4,938.3 793.0,938.3 794.6,936.3 796.2,936.7 797.8,937.7 799.4,938.0 801.0,938.4 802.6,938.5 804.2,936.0 805.8,937.6 807.4,937.8 809.0,937.3 810.6,936.3 812.2,937.2 813.8,936.0 815.4,938.7 817.0,938.5 818.6,937.5 820.2,936.7 821.8,938.6 823.4,937.5 825.0,938.5 826.6,938.4 828.2,937.3 829.8,937.0 831.4,937.6 833.0,937.1 834.6,936.2 836.2,936.7 837.8,938.3 839.4,935.8 841.0,935.8 842.6,937.7 844.2,936.6 845.8,937.4 847.4,937.2 849.0,936.8 850.6,938.9 852.2,936.3 853.8,937.0 855.4,936.3 857.0,937.7 858.6,936.6 860.2,936.8 861.8,938.1 863.4,936.7 865.0,937.5 866.6,938.6 868.2,936.0 869.8,935.9 871.4,936.4 873.0,938.1 874.6,937.7 876.2,936.5 877.8,936.8 879.4,936.3 881.0,937.2 882.6,935.8 884.2,937.9 885.8,938.6 887.4,938.8 889.0,938.1 890.6,938.8 892.2,935.8 893.8,936.6 895.4,938.8 897.0,938.2 898.6,937.0 900.2,938.7 901.8,937.7 903.4,938.3 905.0,936.6 906.6,936.3 908.2,937.1 909.8,936.1 911.4,936.9 913.0,938.8 914.6,936.8 916.2,935.7 917.8,935.8 919.4,936.2 921.0,938.2 922.6,936.9 924.2,936.6 925.8,936.0 927.4,938.8 929.0,937.1 930.6,936.4 932.2,935.9 933.8,935.9 935.4,936.2 937.0,937.9 938.6,936.2 940.2,935.8 941.8,937.3 943.4,936.5 945.0,938.9 946.6,936.1 948.2,937.4 949.8,938.2 951.4,937.0 953.0,938.9 954.6,937.2 956.2,936.5 957.8,937.0 959.4,935.8 961.0,937.0 962.6,936.5 964.2,938.5 965.8,938.4 967.4,937.3 969.0,935.8 970.6,936.5 972.2,936.5 973.8,936.4 975.4,936.4 977.0,938.5 978.6,936.2 980.2,935.9 981.8,938.7 983.4,937.5 985.0,938.9 986.6,937.0 988.2,938.6 989.8,937.8 991.4,938.2 993.0,938.1 994.6,937.3 996.2,936.0 997.8,936.4 999.4,938.5 1001.0,938.6 1002.6,938.7 1004.2,936.8 1005.8,937.8 1007.4,938.3 1009.0,937.8 1010.6,938.3 1012.2,937.4 1013.8,937.8 1015.4,937.9 1017.0,936.6 1018.6,938.7 1020.2,938.8 1021.8,935.9 1023.4,938.8 1025.0,938.8 1026.6,937.8 1028.2,935.8 1029.8,938.6 1031.4,936.1 1033.0,938.8 1034.6,937.8 1036.2,935.9 1037.8,936.2 1039.4,937.7 1041.0,937.5 1042.6,938.1 1044.2,938.7 1045.8,936.4 1047.4,935.7 1049.0,938.7 1050.6,935.7 1052.2,938.5 1053.8,936.1 1055.4,938.3 1057.0,938.2 1058.6,938.5 1060.2,937.5 1061.8,938.5 1063.4,936.3 1065.0,937.8 1066.6,936.8 1068.2,938.6 1069.8,938.2 1071.4,937.2 1073.0,937.4 1074.6,935.8 1076.2,935.8 1077.8,937.6 1079.4,937.3 1081.0,938.5 1082.6,937.6 1084.2,936.1 1085.8,936.9 1087.4,938.2 1089.0,937.4 1090.6,935.7 1092.2,938.4 1093.8,938.3 1095.4,936.0 1097.0,937.4 1098.6,936.9 1100.2,938.2 1101.8,936.7 1103.4,936.4 1105.0,937.3 1106.6,938.8 1108.2,936.0 1109.8,936.1 1111.4,937.7 1113.0,938.5 1114.6,937.3 1116.2,937.1 1117.8,938.4 1119.4,938.2 1121.0,935.9 1122.6,938.5 1124.2,936.3 1125.8,936.7 1127.4,938.4 1129.0,937.1 1130.6,938.3 1132.2,936.2 1133.8,938.5 1135.4,936.3 1137.0,936.2 1138.6,937.3 1140.2,936.8 1141.8,937.4 1143.4,938.6 1145.0,938.0 1146.6,935.7 1148.2,936.7 1149.8,937.4 1151.4,937.3 1153.0,938.0 1154.6,937.2 1156.2,935.9 1157.8,936.5 1159.4,938.4 1161.0,936.8 1162.6,938.2 1164.2,938.9 1165.8,937.7 1167.4,937.9 1169.0,937.7 1170.6,936.7 1172.2,938.6 1173.8,937.2 1175.4,938.6 1177.0,936.7 1178.6,938.5 1180.2,938.2 1181.8,937.7 1183.4,937.1 1185.0,936.2 1186.6,938.2 1188.2,936.9 1189.8,937.8 1191.4,936.1 1193.0,936.0 1194.6,936.2 1196.2,938.3 1197.8,936.3 1199.4,938.6 1201.0,936.9 1202.6,937.5 1204.2,936.8 1205.8,937.7 1207.4,936.0 1209.0,937.0 1210.6,938.7 1212.2,936.3 1213.8,937.8 1215.4,936.7 1217.0,936.7 1218.6,935.8 1220.2,935.8 1221.8,938.7 1223.4,938.4 1225.0,938.3 1226.6,938.3 1228.2,938.8 1229.8,936.2 1231.4,937.6 1233.0,937.3 1234.6,937.5 1236.2,938.7 1237.8,938.1 1239.4,938.8 1241.0,936.1 1242.6,937.8 1244.2,937.9 1245.8,938.1 1247.4,937.7 1249.0,938.4 1250.6,936.7 1252.2,938.7 1253.8,937.0 1255.4,937.6 1257.0,938.6 1258.6,938.0 1260.2,936.7 1261.8,936.4 1263.4,936.7 1265.0,937.7 1266.6,938.9 1268.2,938.6 1269.8,937.0 1271.4,937.0 1273.0,938.3 1274.6,936.6 1276.2,937.0 1277.8,935.7 1279.4,936.3 1281.0,937.4 1282.6,937.9 1284.2,937.7 1285.8,936.9 1287.4,938.7 1289.0,937.7 1290.6,936.2 1292.2,935.9 1293.8,938.8 1295.4,938.9 1297.0,938.6 1298.6,937.6 1300.2,936.7 1301.8,936.0 1303.4,936.5 1305.0,936.4 1306.6,938.7" fill="none" stroke="#151515" stroke-width="3.0" stroke-linejoin="round" stroke-linecap="round"/>
<polyline points="764.2,943.4 766.2,943.2 768.2,942.2 770.2,942.4 772.2,942.5 774.2,943.5 776.2,942.3 778.2,943.3 780.2,943.1 782.2,942.9 784.2,943.5 786.2,942.4 788.2,942.8 790.2,942.3 792.2,942.2 794.2,942.1 796.2,942.5 798.2,942.2 800.2,942.1 802.2,943.6 804.2,942.5 806.2,943.4 808.2,943.1 810.2,943.2 812.2,943.0 814.2,943.5 816.2,943.4 818.2,943.2 820.2,942.9 822.2,943.1 824.2,943.2 826.2,942.9 828.2,942.8 830.2,942.2 832.2,943.4 834.2,942.8 836.2,942.1 838.2,942.3 840.2,943.4 842.2,942.4 844.2,942.6 846.2,943.1 848.2,943.4 850.2,942.5 852.2,942.6 854.2,942.7 856.2,942.0 858.2,943.4 860.2,942.0 862.2,943.5 864.2,942.2 866.2,942.3 868.2,943.4 870.2,943.3 872.2,942.4 874.2,942.9 876.2,942.8 878.2,943.1 880.2,942.3 882.2,943.3 884.2,943.6 886.2,943.1 888.2,943.5 890.2,943.5 892.2,942.6 894.2,943.4 896.2,943.3 898.2,942.9 900.2,942.2 902.2,943.0 904.2,943.5 906.2,942.5 908.2,943.0 910.2,943.4 912.2,943.0 914.2,942.1 916.2,943.0 918.2,942.4 920.2,943.4 922.2,943.1 924.2,942.5 926.2,943.4 928.2,943.0 930.2,942.5 932.2,943.3 934.2,943.4 936.2,943.4 938.2,943.4 940.2,943.1 942.2,943.1 944.2,943.0 946.2,942.8 948.2,943.6 950.2,942.6 952.2,942.1 954.2,943.1 956.2,942.8 958.2,942.9 960.2,943.0 962.2,942.4 964.2,942.3 966.2,942.1 968.2,943.3 970.2,943.5 972.2,943.1 974.2,942.2 976.2,943.6 978.2,943.3 980.2,942.8 982.2,942.0 984.2,943.4 986.2,943.0 988.2,943.0 990.2,942.0 992.2,943.2 994.2,942.1 996.2,942.8 998.2,942.2 1000.2,942.6 1002.2,943.4 1004.2,943.2 1006.2,943.3 1008.2,942.5 1010.2,942.6 1012.2,943.0 1014.2,942.1 1016.2,942.7 1018.2,943.6 1020.2,943.2 1022.2,943.4 1024.2,942.5 1026.2,943.1 1028.2,943.3 1030.2,943.1 1032.2,942.7 1034.2,942.3 1036.2,942.0 1038.2,943.4 1040.2,943.5 1042.2,942.4 1044.2,943.2 1046.2,942.7 1048.2,943.0 1050.2,943.3 1052.2,942.5 1054.2,943.0 1056.2,942.4 1058.2,942.8 1060.2,942.0 1062.2,942.4 1064.2,942.5 1066.2,943.5 1068.2,942.2 1070.2,943.2 1072.2,942.1 1074.2,943.6 1076.2,942.3 1078.2,942.1 1080.2,942.3 1082.2,943.5 1084.2,943.1 1086.2,943.4 1088.2,942.8 1090.2,942.2 1092.2,942.5 1094.2,942.7 1096.2,943.6 1098.2,942.3 1100.2,942.4 1102.2,943.3 1104.2,942.2 1106.2,943.6 1108.2,942.5 1110.2,942.9 1112.2,943.1 1114.2,943.5 1116.2,942.1 1118.2,943.4 1120.2,942.3 1122.2,943.1 1124.2,942.0 1126.2,943.2 1128.2,942.3 1130.2,942.3 1132.2,942.1 1134.2,942.5 1136.2,942.5 1138.2,943.6 1140.2,943.0 1142.2,942.6 1144.2,943.6 1146.2,942.3 1148.2,942.3 1150.2,943.5 1152.2,943.5 1154.2,943.1 1156.2,943.6 1158.2,942.1 1160.2,943.4 1162.2,943.1 1164.2,943.1 1166.2,943.3 1168.2,942.2 1170.2,942.3 1172.2,942.2 1174.2,942.8 1176.2,942.9 1178.2,942.9 1180.2,942.6 1182.2,943.2 1184.2,943.3 1186.2,943.2 1188.2,942.1 1190.2,942.2 1192.2,942.4 1194.2,942.4 1196.2,942.9 1198.2,942.3 1200.2,943.0 1202.2,942.6 1204.2,942.6 1206.2,943.1 1208.2,943.5 1210.2,942.3 1212.2,942.6 1214.2,943.6 1216.2,942.3 1218.2,942.0 1220.2,942.3 1222.2,943.3 1224.2,943.2 1226.2,943.5 1228.2,942.8 1230.2,942.1 1232.2,942.5 1234.2,943.2 1236.2,942.6 1238.2,942.2 1240.2,942.6 1242.2,942.7 1244.2,942.6 1246.2,942.7 1248.2,942.2 1250.2,942.0 1252.2,943.3 1254.2,943.2 1256.2,942.7 1258.2,942.2 1260.2,942.5 1262.2,942.9 1264.2,943.4 1266.2,942.8 1268.2,943.6 1270.2,942.8 1272.2,942.3 1274.2,943.0 1276.2,943.0 1278.2,943.0 1280.2,943.2 1282.2,942.0 1284.2,942.7 1286.2,943.3 1288.2,942.2 1290.2,942.1 1292.2,942.3 1294.2,942.5 1296.2,942.7 1298.2,942.5 1300.2,943.0 1302.2,942.3 1304.2,942.6 1306.2,943.1" fill="none" stroke="#8d8d8d" stroke-width="1.4" stroke-linejoin="round" stroke-linecap="round" stroke-dasharray="6,3"/>
<rect x="763.2" y="544.8" width="545.0" height="401.8" rx="0" fill="none" stroke="#262626" stroke-width="2.8"/>
<line x1="763.2" y1="937.8" x2="772.7" y2="937.8" stroke="#262626" stroke-width="2.4"/>
<line x1="1308.2" y1="937.8" x2="1298.7" y2="937.8" stroke="#262626" stroke-width="2.4"/>
<line x1="763.2" y1="898.5" x2="768.2" y2="898.5" stroke="#262626" stroke-width="2.4"/>
<line x1="1308.2" y1="898.5" x2="1303.2" y2="898.5" stroke="#262626" stroke-width="2.4"/>
<line x1="763.2" y1="859.2" x2="772.7" y2="859.2" stroke="#262626" stroke-width="2.4"/>
<line x1="1308.2" y1="859.2" x2="1298.7" y2="859.2" stroke="#262626" stroke-width="2.4"/>
<line x1="763.2" y1="819.9" x2="768.2" y2="819.9" stroke="#262626" stroke-width="2.4"/>
<line x1="1308.2" y1="819.9" x2="1303.2" y2="819.9" stroke="#262626" stroke-width="2.4"/>
<line x1="763.2" y1="780.6" x2="772.7" y2="780.6" stroke="#262626" stroke-width="2.4"/>
<line x1="1308.2" y1="780.6" x2="1298.7" y2="780.6" stroke="#262626" stroke-width="2.4"/>
<line x1="763.2" y1="741.3" x2="768.2" y2="741.3" stroke="#262626" stroke-width="2.4"/>
<line x1="1308.2" y1="741.3" x2="1303.2" y2="741.3" stroke="#262626" stroke-width="2.4"/>
<line x1="763.2" y1="702.0" x2="772.7" y2="702.0" stroke="#262626" stroke-width="2.4"/>
<line x1="1308.2" y1="702.0" x2="1298.7" y2="702.0" stroke="#262626" stroke-width="2.4"/>
<line x1="763.2" y1="662.7" x2="768.2" y2="662.7" stroke="#262626" stroke-width="2.4"/>
<line x1="1308.2" y1="662.7" x2="1303.2" y2="662.7" stroke="#262626" stroke-width="2.4"/>
<line x1="763.2" y1="623.4" x2="772.7" y2="623.4" stroke="#262626" stroke-width="2.4"/>
<line x1="1308.2" y1="623.4" x2="1298.7" y2="623.4" stroke="#262626" stroke-width="2.4"/>
<line x1="763.2" y1="584.1" x2="768.2" y2="584.1" stroke="#262626" stroke-width="2.4"/>
<line x1="1308.2" y1="584.1" x2="1303.2" y2="584.1" stroke="#262626" stroke-width="2.4"/>
<text x="753.5" y="946.1" font-family="'Liberation Sans', Arial, sans-serif" font-size="23.5" font-weight="bold" fill="#1e1e1e" text-anchor="end" textLength="33.0" lengthAdjust="spacingAndGlyphs">0.0</text>
<text x="753.5" y="867.5" font-family="'Liberation Sans', Arial, sans-serif" font-size="23.5" font-weight="bold" fill="#1e1e1e" text-anchor="end" textLength="33.0" lengthAdjust="spacingAndGlyphs">0.5</text>
<text x="753.5" y="788.9" font-family="'Liberation Sans', Arial, sans-serif" font-size="23.5" font-weight="bold" fill="#1e1e1e" text-anchor="end" textLength="33.0" lengthAdjust="spacingAndGlyphs">1.0</text>
<text x="753.5" y="710.3" font-family="'Liberation Sans', Arial, sans-serif" font-size="23.5" font-weight="bold" fill="#1e1e1e" text-anchor="end" textLength="33.0" lengthAdjust="spacingAndGlyphs">1.5</text>
<text x="753.5" y="631.7" font-family="'Liberation Sans', Arial, sans-serif" font-size="23.5" font-weight="bold" fill="#1e1e1e" text-anchor="end" textLength="33.0" lengthAdjust="spacingAndGlyphs">2.0</text>
<text x="753.5" y="553.1" font-family="'Liberation Sans', Arial, sans-serif" font-size="23.5" font-weight="bold" fill="#1e1e1e" text-anchor="end" textLength="33.0" lengthAdjust="spacingAndGlyphs">2.5</text>
<line x1="790.0" y1="544.8" x2="790.0" y2="554.3" stroke="#262626" stroke-width="2.4"/>
<line x1="790.0" y1="946.6" x2="790.0" y2="937.1" stroke="#262626" stroke-width="2.4"/>
<text x="790.0" y="975.3" font-family="'Liberation Sans', Arial, sans-serif" font-size="23.5" font-weight="bold" fill="#1e1e1e" text-anchor="middle" textLength="47.5" lengthAdjust="spacingAndGlyphs">-900</text>
<line x1="830.9" y1="544.8" x2="830.9" y2="549.8" stroke="#262626" stroke-width="2.4"/>
<line x1="830.9" y1="946.6" x2="830.9" y2="941.6" stroke="#262626" stroke-width="2.4"/>
<line x1="871.8" y1="544.8" x2="871.8" y2="554.3" stroke="#262626" stroke-width="2.4"/>
<line x1="871.8" y1="946.6" x2="871.8" y2="937.1" stroke="#262626" stroke-width="2.4"/>
<text x="871.8" y="975.3" font-family="'Liberation Sans', Arial, sans-serif" font-size="23.5" font-weight="bold" fill="#1e1e1e" text-anchor="middle" textLength="47.5" lengthAdjust="spacingAndGlyphs">-600</text>
<line x1="912.7" y1="544.8" x2="912.7" y2="549.8" stroke="#262626" stroke-width="2.4"/>
<line x1="912.7" y1="946.6" x2="912.7" y2="941.6" stroke="#262626" stroke-width="2.4"/>
<line x1="953.5" y1="544.8" x2="953.5" y2="554.3" stroke="#262626" stroke-width="2.4"/>
<line x1="953.5" y1="946.6" x2="953.5" y2="937.1" stroke="#262626" stroke-width="2.4"/>
<text x="953.5" y="975.3" font-family="'Liberation Sans', Arial, sans-serif" font-size="23.5" font-weight="bold" fill="#1e1e1e" text-anchor="middle" textLength="47.5" lengthAdjust="spacingAndGlyphs">-300</text>
<line x1="994.4" y1="544.8" x2="994.4" y2="549.8" stroke="#262626" stroke-width="2.4"/>
<line x1="994.4" y1="946.6" x2="994.4" y2="941.6" stroke="#262626" stroke-width="2.4"/>
<line x1="1035.3" y1="544.8" x2="1035.3" y2="554.3" stroke="#262626" stroke-width="2.4"/>
<line x1="1035.3" y1="946.6" x2="1035.3" y2="937.1" stroke="#262626" stroke-width="2.4"/>
<text x="1035.3" y="975.3" font-family="'Liberation Sans', Arial, sans-serif" font-size="23.5" font-weight="bold" fill="#1e1e1e" text-anchor="middle" textLength="13.5" lengthAdjust="spacingAndGlyphs">0</text>
<line x1="1076.2" y1="544.8" x2="1076.2" y2="549.8" stroke="#262626" stroke-width="2.4"/>
<line x1="1076.2" y1="946.6" x2="1076.2" y2="941.6" stroke="#262626" stroke-width="2.4"/>
<line x1="1117.0" y1="544.8" x2="1117.0" y2="554.3" stroke="#262626" stroke-width="2.4"/>
<line x1="1117.0" y1="946.6" x2="1117.0" y2="937.1" stroke="#262626" stroke-width="2.4"/>
<text x="1117.0" y="975.3" font-family="'Liberation Sans', Arial, sans-serif" font-size="23.5" font-weight="bold" fill="#1e1e1e" text-anchor="middle" textLength="40.0" lengthAdjust="spacingAndGlyphs">300</text>
<line x1="1157.9" y1="544.8" x2="1157.9" y2="549.8" stroke="#262626" stroke-width="2.4"/>
<line x1="1157.9" y1="946.6" x2="1157.9" y2="941.6" stroke="#262626" stroke-width="2.4"/>
<line x1="1198.8" y1="544.8" x2="1198.8" y2="554.3" stroke="#262626" stroke-width="2.4"/>
<line x1="1198.8" y1="946.6" x2="1198.8" y2="937.1" stroke="#262626" stroke-width="2.4"/>
<text x="1198.8" y="975.3" font-family="'Liberation Sans', Arial, sans-serif" font-size="23.5" font-weight="bold" fill="#1e1e1e" text-anchor="middle" textLength="40.0" lengthAdjust="spacingAndGlyphs">600</text>
<line x1="1239.7" y1="544.8" x2="1239.7" y2="549.8" stroke="#262626" stroke-width="2.4"/>
<line x1="1239.7" y1="946.6" x2="1239.7" y2="941.6" stroke="#262626" stroke-width="2.4"/>
<line x1="1280.5" y1="544.8" x2="1280.5" y2="554.3" stroke="#262626" stroke-width="2.4"/>
<line x1="1280.5" y1="946.6" x2="1280.5" y2="937.1" stroke="#262626" stroke-width="2.4"/>
<text x="1280.5" y="975.3" font-family="'Liberation Sans', Arial, sans-serif" font-size="23.5" font-weight="bold" fill="#1e1e1e" text-anchor="middle" textLength="40.0" lengthAdjust="spacingAndGlyphs">900</text>
<text x="970.5" y="1016.6" font-family="'Liberation Sans', Arial, sans-serif" font-size="31" font-weight="bold" fill="#1e1e1e" textLength="142.5" lengthAdjust="spacingAndGlyphs">Time (ns)</text>
<text x="689.0" y="900.0" font-family="'Liberation Sans', Arial, sans-serif" font-size="29.5" font-weight="bold" fill="#1e1e1e" textLength="307.5" lengthAdjust="spacingAndGlyphs" transform="rotate(-90 689.0 900.0)">Intensity (arb. units)</text>
<text x="779.5" y="612.0" font-family="'Liberation Serif', 'Times New Roman', serif" font-size="67" font-weight="normal" fill="#111" textLength="76.5" lengthAdjust="spacingAndGlyphs">(e)</text>
</g>
<g id="panel-f">
<line x1="1589.0" y1="559.6" x2="1704.0" y2="559.6" stroke="#c79aa6" stroke-width="1.6" stroke-dasharray="6,4"/>
<line x1="1562.5" y1="873.5" x2="1652.0" y2="873.5" stroke="#c79aa6" stroke-width="1.6" stroke-dasharray="6,4"/>
<line x1="1631.3" y1="560.0" x2="1631.3" y2="666.0" stroke="#1c1c1c" stroke-width="2.2"/>
<polygon points="1620.5,662 1642,662 1631.3,684" fill="#151515"/>
<line x1="1631.3" y1="766.0" x2="1631.3" y2="873.5" stroke="#1c1c1c" stroke-width="2.2"/>
<polygon points="1620.5,770 1642,770 1631.3,748.5" fill="#151515"/>
<text x="1583.0" y="722.2" font-family="'Liberation Sans', Arial, sans-serif" font-size="24" font-weight="bold" fill="#222" textLength="74.0" lengthAdjust="spacingAndGlyphs">~65dB</text>
<polyline points="1439.6,911.1 1441.1,911.5 1442.7,911.7 1444.2,913.6 1445.8,912.6 1447.3,914.1 1448.9,915.3 1450.4,914.4 1451.9,914.9 1453.5,914.6 1455.0,913.2 1456.6,913.4 1458.1,913.6 1459.7,912.8 1461.2,912.9 1462.8,912.2 1464.4,912.6 1466.1,912.6 1467.7,913.6 1469.3,914.7 1470.9,912.7 1472.5,911.7 1474.2,909.6 1475.8,908.9 1477.4,906.4 1479.2,909.4 1481.0,912.8 1482.8,915.6 1484.3,914.1 1485.9,912.5 1487.4,911.9 1489.0,910.8 1490.5,910.0 1492.1,910.0 1493.6,908.0 1495.2,908.7 1496.8,908.1 1498.5,906.1 1500.1,906.1 1501.7,905.8 1503.3,905.7 1504.9,907.3 1506.6,908.9 1508.2,908.3 1509.8,910.0 1511.4,908.6 1513.1,908.9 1514.7,908.9 1516.4,907.1 1518.0,906.2 1519.8,907.3 1521.5,909.0 1523.3,908.9 1525.1,907.3 1526.9,906.2 1528.7,905.2 1530.3,904.8 1531.9,905.3 1533.6,906.3 1535.2,905.8 1536.8,907.2 1538.6,904.7 1540.4,903.7 1542.2,902.5 1544.2,904.9 1546.2,909.9 1547.9,908.3 1549.6,905.8 1551.3,904.4 1553.0,904.0 1554.6,903.5 1556.2,901.3 1557.9,901.8 1559.5,901.8 1561.1,899.9 1562.6,901.6 1564.2,901.5 1565.7,903.0 1567.3,904.5 1568.8,905.3 1570.4,906.6 1571.9,906.4 1573.5,906.3 1575.1,906.7 1576.8,905.6 1578.4,904.9 1580.0,904.2 1581.7,904.6 1583.3,903.2 1585.0,901.5 1586.7,902.2 1588.5,903.2 1590.3,905.2 1592.1,906.6 1593.8,903.6 1595.5,900.0 1597.2,896.2 1598.9,893.8 1600.6,894.6 1602.2,897.5 1603.9,897.8 1605.6,900.9 1607.2,899.6 1608.8,897.7 1610.3,896.7 1611.9,894.5 1613.5,894.1 1615.1,892.2 1616.7,891.5 1618.3,892.6 1620.0,891.3 1621.6,891.0 1623.2,891.5 1624.7,890.4 1626.2,890.6 1627.7,889.4 1629.2,890.3 1630.7,889.0 1632.2,888.3 1633.7,889.7 1635.2,887.9 1636.7,889.0 1638.3,887.1 1639.8,884.4 1641.4,881.3 1643.0,879.3 1644.5,877.6 1646.1,875.9 1647.7,878.7 1649.3,881.8 1651.0,883.1 1652.6,885.1 1654.2,888.3 1656.1,880.4 1658.0,873.3 1660.0,872.3 1661.9,870.8 1663.4,868.2 1664.9,867.4 1666.4,866.4 1668.0,862.0 1669.6,856.8 1671.5,854.9 1673.5,850.7 1675.4,848.9 1677.3,847.4 1679.2,846.1 1682.0,837.0 1684.8,826.9 1686.4,806.3 1688.0,785.6 1689.6,765.0 1691.3,744.6 1692.9,724.2 1694.6,703.8 1696.2,682.5 1697.7,661.3 1699.3,640.0 1701.2,616.0 1703.2,592.0 1704.8,580.0 1706.3,568.0 1709.1,560.8 1711.6,566.0 1713.1,578.0 1714.6,590.0 1716.7,615.0 1718.7,640.0 1720.4,661.3 1722.1,682.5 1723.8,703.8 1725.4,724.2 1727.0,744.6 1728.6,765.0 1730.1,785.6 1731.6,806.3 1733.1,826.9 1735.2,838.0 1737.7,846.9 1739.2,850.0 1740.7,855.4 1742.6,858.1 1744.5,861.4 1746.4,864.8 1748.3,864.4 1750.3,866.1 1752.2,866.3 1753.7,868.0 1755.3,867.6 1756.8,869.4 1758.4,870.0 1759.9,870.6 1761.4,872.6 1763.0,872.6 1764.5,875.2 1766.1,876.8 1767.6,878.4 1769.1,880.2 1770.6,881.9 1772.2,884.4 1773.7,887.5 1775.2,889.0 1776.7,889.2 1778.3,890.1 1779.8,890.7 1781.4,891.2 1782.9,890.6 1784.6,891.5 1786.3,890.2 1788.0,890.5 1789.6,888.1 1791.2,888.7 1792.9,887.0 1794.5,886.7 1796.0,889.7 1797.5,892.5 1799.1,894.3 1800.6,897.8 1802.1,900.6 1803.7,899.9 1805.4,897.1 1807.0,895.5 1808.7,894.6 1810.3,894.0 1812.0,894.8 1813.7,894.3 1815.5,895.0 1817.2,897.6 1819.0,898.9 1820.5,900.5 1822.1,901.8 1823.7,903.7 1825.2,904.5 1826.8,903.3 1828.4,902.5 1830.0,900.6 1831.6,899.8 1833.2,899.4 1834.8,896.4 1836.4,898.2 1838.0,901.0 1839.6,901.3 1841.2,903.3 1842.8,905.9 1844.4,907.1 1846.3,905.1 1848.1,903.5 1850.0,902.6 1852.0,902.0 1853.9,902.3 1855.9,902.0 1857.4,903.2 1859.0,904.9 1860.5,906.5 1862.1,907.9 1863.6,909.6 1865.4,909.2 1867.3,907.2 1869.2,907.1 1871.0,906.5 1872.6,907.2 1874.2,906.9 1875.8,906.7 1877.4,907.5 1879.0,906.7 1880.5,906.9 1882.0,907.5 1883.5,908.4 1885.0,909.2 1886.8,909.7 1888.7,910.0 1890.5,910.1 1892.3,909.6 1894.2,908.6 1896.0,907.4 1897.5,908.3 1899.0,907.8 1900.5,909.0 1902.0,909.1 1903.5,908.7 1905.0,910.1 1906.5,910.2 1908.0,910.9 1909.9,911.7 1911.7,912.5 1913.6,913.3 1915.2,912.4 1916.8,910.8 1918.4,910.7 1920.0,909.7 1921.8,909.1 1923.6,909.9 1925.3,909.7 1927.1,910.3 1928.9,909.3 1930.6,911.0 1932.3,911.2 1934.0,911.3 1935.6,912.5 1937.2,911.9 1938.8,912.5 1940.4,911.8 1942.3,911.2 1944.1,912.3 1946.0,910.2 1947.5,910.6 1949.0,910.8 1950.5,910.9 1952.0,912.5 1953.5,912.6 1955.0,911.7 1956.5,911.0 1958.0,911.7 1959.8,908.4 1961.7,905.1 1963.5,903.4 1965.2,905.3 1967.0,907.6 1969.1,909.0 1971.2,910.5 1972.7,910.7 1974.3,912.0 1975.8,913.0 1977.4,913.0 1978.9,912.5" fill="none" stroke="#2a2a2a" stroke-width="2.4" stroke-linejoin="round" stroke-linecap="round"/>
<rect x="1778.9" y="625.0" width="185.9" height="137.0" rx="0" fill="#fff" stroke="#8a8a8a" stroke-width="1.5"/>
<polyline points="1779.9,746.4 1781.5,637.5 1785.7,746.4 1791.5,746.4 1795.7,637.5 1799.9,746.4 1804.6,746.4 1808.8,637.5 1813.0,746.4 1817.9,746.4 1822.1,637.5 1826.3,746.4 1831.3,746.4 1835.5,637.5 1839.7,746.4 1844.4,746.4 1848.6,637.5 1852.8,746.4 1857.9,746.4 1862.1,637.5 1866.3,746.4 1871.0,746.4 1875.2,637.5 1879.4,746.4 1884.5,746.4 1888.7,637.5 1892.9,746.4 1897.8,746.4 1902.0,637.5 1906.2,746.4 1911.0,746.4 1915.2,637.5 1919.4,746.4 1924.6,746.4 1928.8,637.5 1933.0,746.4 1937.4,746.4 1941.6,637.5 1945.8,746.4 1951.1,746.4 1955.3,637.5 1959.5,746.4 1963.8,746.4" fill="none" stroke="#8c8c8c" stroke-width="1.5" stroke-linejoin="round" stroke-linecap="round"/>
<rect x="1785.6" y="745" width="6" height="3.2" fill="#555" opacity="0.8"/>
<rect x="1799.2" y="745" width="6" height="3.2" fill="#555" opacity="0.8"/>
<rect x="1812.4" y="745" width="6" height="3.2" fill="#555" opacity="0.8"/>
<rect x="1825.8" y="745" width="6" height="3.2" fill="#555" opacity="0.8"/>
<rect x="1839.0" y="745" width="6" height="3.2" fill="#555" opacity="0.8"/>
<rect x="1852.3" y="745" width="6" height="3.2" fill="#555" opacity="0.8"/>
<rect x="1865.7" y="745" width="6" height="3.2" fill="#555" opacity="0.8"/>
<rect x="1879.0" y="745" width="6" height="3.2" fill="#555" opacity="0.8"/>
<rect x="1892.3" y="745" width="6" height="3.2" fill="#555" opacity="0.8"/>
<rect x="1905.6" y="745" width="6" height="3.2" fill="#555" opacity="0.8"/>
<rect x="1919.0" y="745" width="6" height="3.2" fill="#555" opacity="0.8"/>
<rect x="1932.2" y="745" width="6" height="3.2" fill="#555" opacity="0.8"/>
<rect x="1945.4" y="745" width="6" height="3.2" fill="#555" opacity="0.8"/>
<line x1="1778.9" y1="636.6" x2="1781.4" y2="636.6" stroke="#999" stroke-width="1"/>
<line x1="1964.8" y1="636.6" x2="1962.3" y2="636.6" stroke="#999" stroke-width="1"/>
<text x="1776.9" y="638.6" font-family="'Liberation Sans', Arial, sans-serif" font-size="5.5" font-weight="normal" fill="#777" text-anchor="end">-30</text>
<line x1="1778.9" y1="659.2" x2="1781.4" y2="659.2" stroke="#999" stroke-width="1"/>
<line x1="1964.8" y1="659.2" x2="1962.3" y2="659.2" stroke="#999" stroke-width="1"/>
<text x="1776.9" y="661.2" font-family="'Liberation Sans', Arial, sans-serif" font-size="5.5" font-weight="normal" fill="#777" text-anchor="end">-40</text>
<line x1="1778.9" y1="681.9" x2="1781.4" y2="681.9" stroke="#999" stroke-width="1"/>
<line x1="1964.8" y1="681.9" x2="1962.3" y2="681.9" stroke="#999" stroke-width="1"/>
<text x="1776.9" y="683.9" font-family="'Liberation Sans', Arial, sans-serif" font-size="5.5" font-weight="normal" fill="#777" text-anchor="end">-50</text>
<line x1="1778.9" y1="704.5" x2="1781.4" y2="704.5" stroke="#999" stroke-width="1"/>
<line x1="1964.8" y1="704.5" x2="1962.3" y2="704.5" stroke="#999" stroke-width="1"/>
<text x="1776.9" y="706.5" font-family="'Liberation Sans', Arial, sans-serif" font-size="5.5" font-weight="normal" fill="#777" text-anchor="end">-60</text>
<line x1="1778.9" y1="727.2" x2="1781.4" y2="727.2" stroke="#999" stroke-width="1"/>
<line x1="1964.8" y1="727.2" x2="1962.3" y2="727.2" stroke="#999" stroke-width="1"/>
<text x="1776.9" y="729.2" font-family="'Liberation Sans', Arial, sans-serif" font-size="5.5" font-weight="normal" fill="#777" text-anchor="end">-70</text>
<line x1="1778.9" y1="749.9" x2="1781.4" y2="749.9" stroke="#999" stroke-width="1"/>
<line x1="1964.8" y1="749.9" x2="1962.3" y2="749.9" stroke="#999" stroke-width="1"/>
<text x="1776.9" y="751.9" font-family="'Liberation Sans', Arial, sans-serif" font-size="5.5" font-weight="normal" fill="#777" text-anchor="end">-80</text>
<line x1="1807.4" y1="762.0" x2="1807.4" y2="759.5" stroke="#999" stroke-width="1"/>
<line x1="1807.4" y1="625.0" x2="1807.4" y2="627.5" stroke="#999" stroke-width="1"/>
<text x="1807.4" y="770.0" font-family="'Liberation Sans', Arial, sans-serif" font-size="6" font-weight="normal" fill="#777" text-anchor="middle">20</text>
<line x1="1846.3" y1="762.0" x2="1846.3" y2="759.5" stroke="#999" stroke-width="1"/>
<line x1="1846.3" y1="625.0" x2="1846.3" y2="627.5" stroke="#999" stroke-width="1"/>
<text x="1846.3" y="770.0" font-family="'Liberation Sans', Arial, sans-serif" font-size="6" font-weight="normal" fill="#777" text-anchor="middle">40</text>
<line x1="1885.2" y1="762.0" x2="1885.2" y2="759.5" stroke="#999" stroke-width="1"/>
<line x1="1885.2" y1="625.0" x2="1885.2" y2="627.5" stroke="#999" stroke-width="1"/>
<text x="1885.2" y="770.0" font-family="'Liberation Sans', Arial, sans-serif" font-size="6" font-weight="normal" fill="#777" text-anchor="middle">60</text>
<line x1="1924.1" y1="762.0" x2="1924.1" y2="759.5" stroke="#999" stroke-width="1"/>
<line x1="1924.1" y1="625.0" x2="1924.1" y2="627.5" stroke="#999" stroke-width="1"/>
<text x="1924.1" y="770.0" font-family="'Liberation Sans', Arial, sans-serif" font-size="6" font-weight="normal" fill="#777" text-anchor="middle">80</text>
<line x1="1963.0" y1="762.0" x2="1963.0" y2="759.5" stroke="#999" stroke-width="1"/>
<line x1="1963.0" y1="625.0" x2="1963.0" y2="627.5" stroke="#999" stroke-width="1"/>
<text x="1963.0" y="770.0" font-family="'Liberation Sans', Arial, sans-serif" font-size="6" font-weight="normal" fill="#777" text-anchor="middle">100</text>
<text x="1875.3" y="785.0" font-family="'Liberation Sans', Arial, sans-serif" font-size="9" font-weight="bold" fill="#888" text-anchor="middle" textLength="87.0" lengthAdjust="spacingAndGlyphs">Frequency (MHz)</text>
<text x="1753.0" y="732.6" font-family="'Liberation Sans', Arial, sans-serif" font-size="8" font-weight="bold" fill="#888" textLength="80.0" lengthAdjust="spacingAndGlyphs" transform="rotate(-90 1753.0 732.6)">Intensity (dBm)</text>
<rect x="1438.5" y="539.8" width="542.5" height="399.7" rx="0" fill="none" stroke="#262626" stroke-width="2.8"/>
<line x1="1438.5" y1="562.4" x2="1443.5" y2="562.4" stroke="#262626" stroke-width="2.4"/>
<line x1="1981.0" y1="562.4" x2="1976.0" y2="562.4" stroke="#262626" stroke-width="2.4"/>
<line x1="1438.5" y1="609.5" x2="1448.0" y2="609.5" stroke="#262626" stroke-width="2.4"/>
<line x1="1981.0" y1="609.5" x2="1971.5" y2="609.5" stroke="#262626" stroke-width="2.4"/>
<text x="1428.5" y="618.0" font-family="'Liberation Sans', Arial, sans-serif" font-size="23" font-weight="bold" fill="#1e1e1e" text-anchor="end" textLength="33.0" lengthAdjust="spacingAndGlyphs">-40</text>
<line x1="1438.5" y1="656.6" x2="1443.5" y2="656.6" stroke="#262626" stroke-width="2.4"/>
<line x1="1981.0" y1="656.6" x2="1976.0" y2="656.6" stroke="#262626" stroke-width="2.4"/>
<line x1="1438.5" y1="703.8" x2="1448.0" y2="703.8" stroke="#262626" stroke-width="2.4"/>
<line x1="1981.0" y1="703.8" x2="1971.5" y2="703.8" stroke="#262626" stroke-width="2.4"/>
<text x="1428.5" y="712.3" font-family="'Liberation Sans', Arial, sans-serif" font-size="23" font-weight="bold" fill="#1e1e1e" text-anchor="end" textLength="33.0" lengthAdjust="spacingAndGlyphs">-60</text>
<line x1="1438.5" y1="751.0" x2="1443.5" y2="751.0" stroke="#262626" stroke-width="2.4"/>
<line x1="1981.0" y1="751.0" x2="1976.0" y2="751.0" stroke="#262626" stroke-width="2.4"/>
<line x1="1438.5" y1="798.1" x2="1448.0" y2="798.1" stroke="#262626" stroke-width="2.4"/>
<line x1="1981.0" y1="798.1" x2="1971.5" y2="798.1" stroke="#262626" stroke-width="2.4"/>
<text x="1428.5" y="806.6" font-family="'Liberation Sans', Arial, sans-serif" font-size="23" font-weight="bold" fill="#1e1e1e" text-anchor="end" textLength="33.0" lengthAdjust="spacingAndGlyphs">-80</text>
<line x1="1438.5" y1="845.2" x2="1443.5" y2="845.2" stroke="#262626" stroke-width="2.4"/>
<line x1="1981.0" y1="845.2" x2="1976.0" y2="845.2" stroke="#262626" stroke-width="2.4"/>
<line x1="1438.5" y1="892.4" x2="1448.0" y2="892.4" stroke="#262626" stroke-width="2.4"/>
<line x1="1981.0" y1="892.4" x2="1971.5" y2="892.4" stroke="#262626" stroke-width="2.4"/>
<text x="1428.5" y="900.9" font-family="'Liberation Sans', Arial, sans-serif" font-size="23" font-weight="bold" fill="#1e1e1e" text-anchor="end" textLength="48.5" lengthAdjust="spacingAndGlyphs">-100</text>
<line x1="1472.9" y1="539.8" x2="1472.9" y2="544.8" stroke="#262626" stroke-width="2.4"/>
<line x1="1472.9" y1="939.5" x2="1472.9" y2="934.5" stroke="#262626" stroke-width="2.4"/>
<line x1="1527.3" y1="539.8" x2="1527.3" y2="549.3" stroke="#262626" stroke-width="2.4"/>
<line x1="1527.3" y1="939.5" x2="1527.3" y2="930.0" stroke="#262626" stroke-width="2.4"/>
<text x="1527.3" y="967.8" font-family="'Liberation Sans', Arial, sans-serif" font-size="20" font-weight="bold" fill="#1e1e1e" text-anchor="middle" textLength="60.0" lengthAdjust="spacingAndGlyphs">6.842</text>
<line x1="1581.7" y1="539.8" x2="1581.7" y2="544.8" stroke="#262626" stroke-width="2.4"/>
<line x1="1581.7" y1="939.5" x2="1581.7" y2="934.5" stroke="#262626" stroke-width="2.4"/>
<line x1="1636.0" y1="539.8" x2="1636.0" y2="549.3" stroke="#262626" stroke-width="2.4"/>
<line x1="1636.0" y1="939.5" x2="1636.0" y2="930.0" stroke="#262626" stroke-width="2.4"/>
<text x="1636.0" y="967.8" font-family="'Liberation Sans', Arial, sans-serif" font-size="20" font-weight="bold" fill="#1e1e1e" text-anchor="middle" textLength="60.0" lengthAdjust="spacingAndGlyphs">6.844</text>
<line x1="1690.4" y1="539.8" x2="1690.4" y2="544.8" stroke="#262626" stroke-width="2.4"/>
<line x1="1690.4" y1="939.5" x2="1690.4" y2="934.5" stroke="#262626" stroke-width="2.4"/>
<line x1="1744.7" y1="539.8" x2="1744.7" y2="549.3" stroke="#262626" stroke-width="2.4"/>
<line x1="1744.7" y1="939.5" x2="1744.7" y2="930.0" stroke="#262626" stroke-width="2.4"/>
<text x="1744.7" y="967.8" font-family="'Liberation Sans', Arial, sans-serif" font-size="20" font-weight="bold" fill="#1e1e1e" text-anchor="middle" textLength="60.0" lengthAdjust="spacingAndGlyphs">6.846</text>
<line x1="1799.0" y1="539.8" x2="1799.0" y2="544.8" stroke="#262626" stroke-width="2.4"/>
<line x1="1799.0" y1="939.5" x2="1799.0" y2="934.5" stroke="#262626" stroke-width="2.4"/>
<line x1="1853.4" y1="539.8" x2="1853.4" y2="549.3" stroke="#262626" stroke-width="2.4"/>
<line x1="1853.4" y1="939.5" x2="1853.4" y2="930.0" stroke="#262626" stroke-width="2.4"/>
<text x="1853.4" y="967.8" font-family="'Liberation Sans', Arial, sans-serif" font-size="20" font-weight="bold" fill="#1e1e1e" text-anchor="middle" textLength="60.0" lengthAdjust="spacingAndGlyphs">6.848</text>
<line x1="1907.7" y1="539.8" x2="1907.7" y2="544.8" stroke="#262626" stroke-width="2.4"/>
<line x1="1907.7" y1="939.5" x2="1907.7" y2="934.5" stroke="#262626" stroke-width="2.4"/>
<line x1="1962.1" y1="539.8" x2="1962.1" y2="549.3" stroke="#262626" stroke-width="2.4"/>
<line x1="1962.1" y1="939.5" x2="1962.1" y2="930.0" stroke="#262626" stroke-width="2.4"/>
<text x="1962.1" y="967.8" font-family="'Liberation Sans', Arial, sans-serif" font-size="20" font-weight="bold" fill="#1e1e1e" text-anchor="middle" textLength="60.0" lengthAdjust="spacingAndGlyphs">6.850</text>
<text x="1579.5" y="1015.1" font-family="'Liberation Sans', Arial, sans-serif" font-size="27.5" font-weight="bold" fill="#1e1e1e" textLength="259.0" lengthAdjust="spacingAndGlyphs">Frequency (MHz)</text>
<text x="1349.0" y="852.0" font-family="'Liberation Sans', Arial, sans-serif" font-size="32" font-weight="bold" fill="#1e1e1e" textLength="232.0" lengthAdjust="spacingAndGlyphs" transform="rotate(-90 1349.0 852.0)">Intensity (dBm)</text>
<text x="1448.5" y="596.0" font-family="'Liberation Serif', 'Times New Roman', serif" font-size="67" font-weight="normal" fill="#111" textLength="69.0" lengthAdjust="spacingAndGlyphs">(f)</text>
</g>
</g></svg>
</body></html>
